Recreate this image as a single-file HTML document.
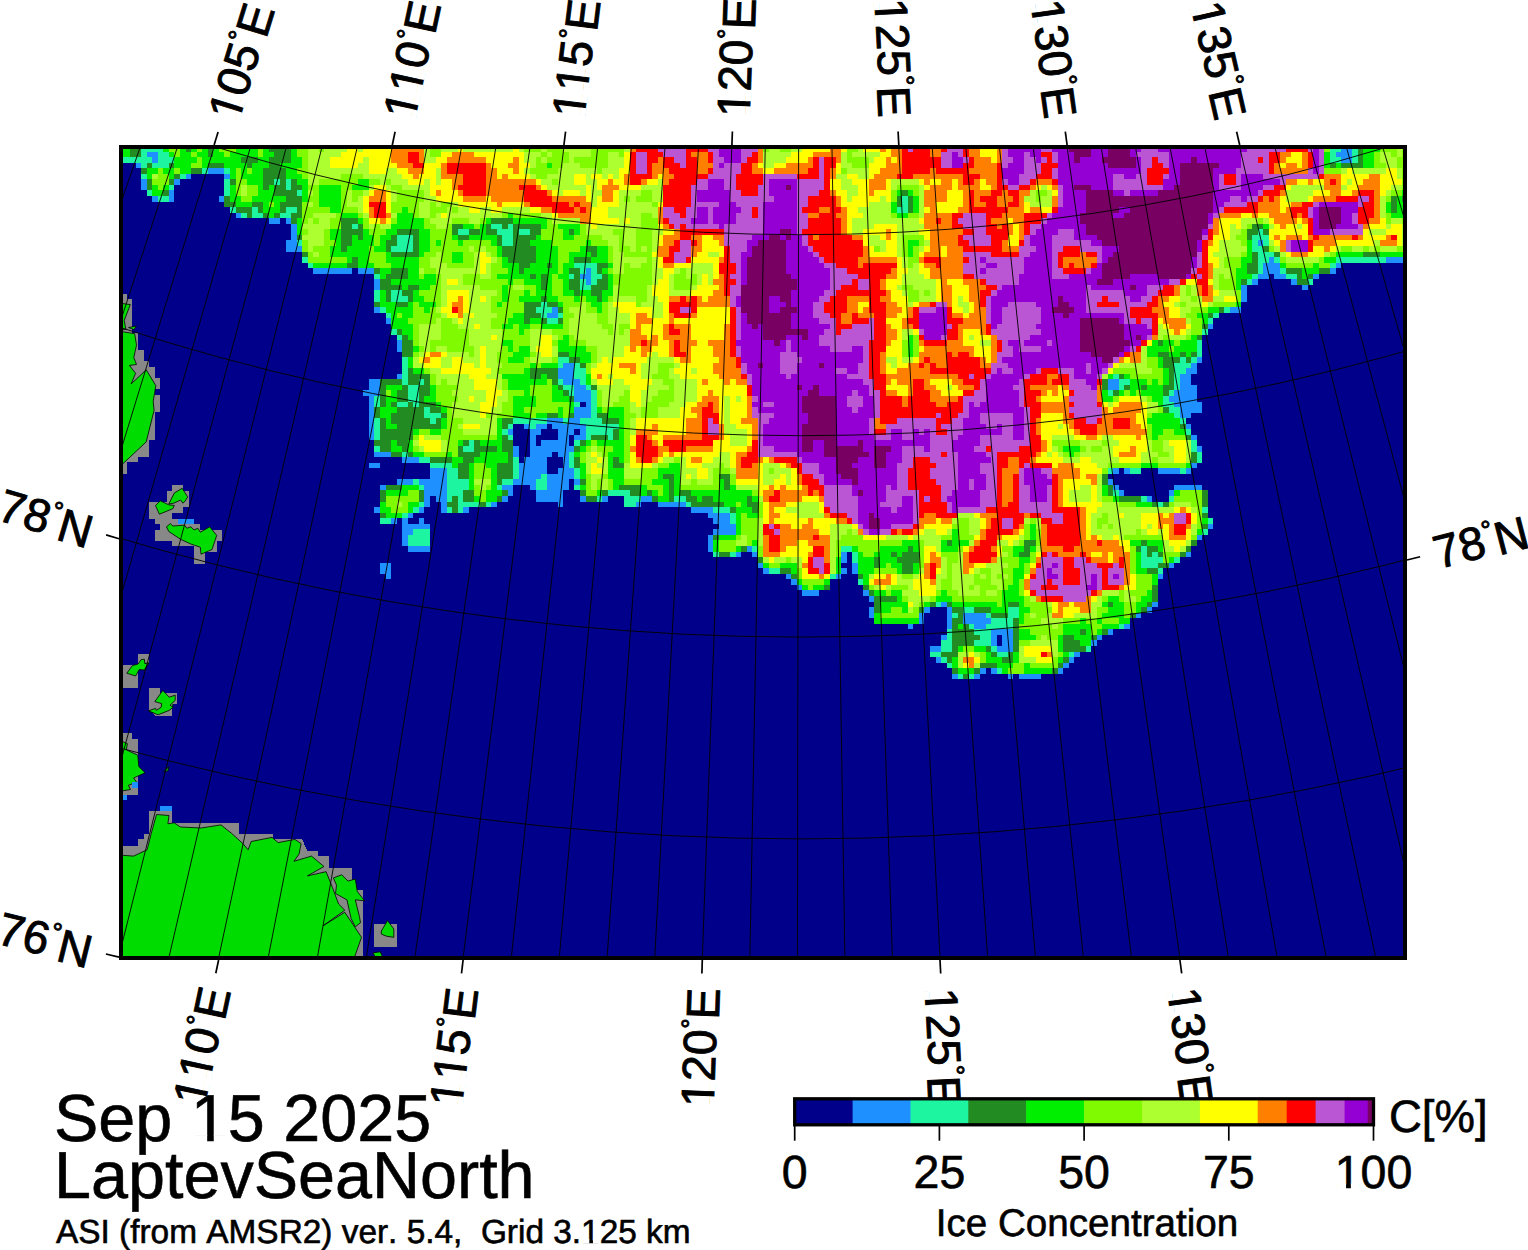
<!DOCTYPE html><html><head><meta charset="utf-8"><style>html,body{margin:0;padding:0;background:#fff}svg text{white-space:pre;font-kerning:none;text-rendering:geometricPrecision}</style></head><body><svg width="1528" height="1250" viewBox="0 0 1528 1250" style="display:block">
<rect width="1528" height="1250" fill="#fff"/>
<defs><clipPath id="mc"><rect x="121" y="147" width="1284" height="811"/></clipPath></defs>
<g clip-path="url(#mc)" shape-rendering="crispEdges">
<rect x="121" y="147" width="1284" height="811" fill="#00008b"/>
<g transform="translate(118.90,146.00) scale(5.5556)">
<path fill="#1e90ff" d="M220 0h2v1h-2zM232 0h1v1h-1zM5 1h2v1h-2zM219 1h3v1h-3zM6 2h1v1h-1zM220 2h2v1h-2zM3 3h1v1h-1zM16 4h3v1h-3zM232 4h1v1h-1zM12 5h1v1h-1zM19 5h1v1h-1zM232 5h1v1h-1zM4 6h1v1h-1zM10 6h1v1h-1zM232 6h1v1h-1zM4 7h1v1h-1zM232 7h1v1h-1zM9 8h1v1h-1zM232 8h1v1h-1zM6 9h1v1h-1zM9 9h1v1h-1zM18 9h1v1h-1zM232 9h1v1h-1zM232 10h1v1h-1zM232 11h1v1h-1zM21 12h1v1h-1zM232 12h1v1h-1zM27 13h2v1h-2zM30 13h1v1h-1zM31 14h1v1h-1zM31 15h1v1h-1zM31 16h1v1h-1zM30 17h2v1h-2zM205 17h1v1h-1zM30 18h3v1h-3zM207 20h1v1h-1zM228 20h4v1h-4zM206 21h3v1h-3zM219 21h1v1h-1zM35 22h7v1h-7zM43 22h3v1h-3zM84 22h1v1h-1zM206 22h3v1h-3zM218 22h1v1h-1zM83 23h2v1h-2zM205 23h2v1h-2zM208 23h2v1h-2zM215 23h1v1h-1zM46 24h1v1h-1zM84 24h1v1h-1zM204 24h1v1h-1zM211 24h1v1h-1zM46 25h1v1h-1zM202 25h1v1h-1zM213 25h1v1h-1zM202 26h1v1h-1zM202 27h1v1h-1zM46 29h1v1h-1zM78 29h1v1h-1zM200 29h2v1h-2zM77 30h2v1h-2zM48 31h1v1h-1zM196 32h1v1h-1zM50 35h1v1h-1zM50 36h1v1h-1zM194 38h1v1h-1zM80 39h2v1h-2zM193 39h1v1h-1zM79 40h3v1h-3zM192 40h2v1h-2zM50 41h1v1h-1zM79 41h3v1h-3zM191 41h2v1h-2zM45 42h2v1h-2zM80 42h3v1h-3zM178 42h2v1h-2zM191 42h2v1h-2zM45 43h2v1h-2zM82 43h2v1h-2zM178 43h2v1h-2zM191 43h3v1h-3zM44 44h3v1h-3zM82 44h3v1h-3zM190 44h4v1h-4zM45 45h1v1h-1zM82 45h3v1h-3zM189 45h5v1h-5zM45 46h1v1h-1zM84 46h1v1h-1zM190 46h5v1h-5zM45 47h1v1h-1zM82 47h3v1h-3zM191 47h4v1h-4zM45 48h1v1h-1zM82 48h3v1h-3zM191 48h2v1h-2zM45 49h1v1h-1zM77 49h3v1h-3zM81 49h2v1h-2zM45 50h1v1h-1zM73 50h1v1h-1zM75 50h2v1h-2zM78 50h6v1h-6zM192 50h1v1h-1zM45 51h1v1h-1zM70 51h1v1h-1zM74 51h2v1h-2zM79 51h3v1h-3zM83 51h1v1h-1zM45 52h1v1h-1zM74 52h1v1h-1zM79 52h2v1h-2zM82 52h2v1h-2zM193 52h1v1h-1zM74 53h1v1h-1zM76 53h5v1h-5zM71 54h1v1h-1zM74 54h8v1h-8zM194 54h1v1h-1zM46 55h3v1h-3zM71 55h1v1h-1zM74 55h4v1h-4zM79 55h2v1h-2zM51 56h3v1h-3zM73 56h4v1h-4zM80 56h1v1h-1zM45 57h2v1h-2zM72 57h5v1h-5zM80 57h1v1h-1zM193 57h1v1h-1zM56 58h3v1h-3zM72 58h5v1h-5zM79 58h3v1h-3zM179 58h1v1h-1zM181 58h1v1h-1zM187 58h4v1h-4zM192 58h1v1h-1zM56 59h3v1h-3zM72 59h4v1h-4zM77 59h5v1h-5zM50 60h3v1h-3zM54 60h5v1h-5zM71 60h4v1h-4zM77 60h4v1h-4zM82 60h1v1h-1zM178 60h1v1h-1zM47 61h1v1h-1zM55 61h4v1h-4zM69 61h2v1h-2zM74 61h1v1h-1zM77 61h4v1h-4zM179 61h1v1h-1zM190 61h5v1h-5zM55 62h4v1h-4zM70 62h1v1h-1zM75 62h5v1h-5zM180 62h1v1h-1zM189 62h1v1h-1zM55 63h1v1h-1zM57 63h2v1h-2zM69 63h1v1h-1zM75 63h5v1h-5zM83 63h1v1h-1zM87 63h1v1h-1zM94 63h2v1h-2zM185 63h1v1h-1zM55 64h1v1h-1zM58 64h1v1h-1zM67 64h1v1h-1zM79 64h1v1h-1zM93 64h1v1h-1zM97 64h5v1h-5zM46 65h1v1h-1zM54 65h1v1h-1zM58 65h1v1h-1zM62 65h1v1h-1zM103 65h4v1h-4zM52 66h1v1h-1zM106 66h4v1h-4zM49 67h1v1h-1zM51 67h1v1h-1zM54 67h1v1h-1zM107 67h3v1h-3zM51 68h5v1h-5zM108 68h3v1h-3zM196 68h1v1h-1zM51 69h2v1h-2zM107 69h4v1h-4zM51 70h1v1h-1zM106 70h1v1h-1zM194 70h1v1h-1zM51 71h1v1h-1zM106 71h1v1h-1zM52 72h4v1h-4zM106 72h1v1h-1zM113 72h1v1h-1zM111 73h1v1h-1zM114 73h1v1h-1zM130 73h1v1h-1zM192 73h1v1h-1zM130 74h1v1h-1zM47 75h2v1h-2zM115 75h1v1h-1zM132 75h1v1h-1zM189 75h1v1h-1zM47 76h2v1h-2zM116 76h1v1h-1zM130 76h1v1h-1zM132 76h1v1h-1zM48 77h1v1h-1zM120 77h1v1h-1zM129 77h1v1h-1zM187 77h1v1h-1zM121 78h1v1h-1zM122 79h1v1h-1zM123 80h3v1h-3zM134 80h1v1h-1zM135 81h1v1h-1zM148 82h1v1h-1zM186 82h1v1h-1zM135 83h1v1h-1zM145 83h1v1h-1zM149 83h1v1h-1zM185 83h1v1h-1zM135 84h1v1h-1zM144 84h1v1h-1zM149 84h1v1h-1zM152 84h4v1h-4zM183 84h1v1h-1zM144 85h1v1h-1zM149 85h1v1h-1zM152 85h5v1h-5zM142 86h1v1h-1zM149 86h1v1h-1zM154 86h2v1h-2zM181 86h1v1h-1zM157 87h4v1h-4zM178 87h1v1h-1zM148 88h1v1h-1zM157 88h1v1h-1zM159 88h2v1h-2zM176 88h1v1h-1zM157 89h1v1h-1zM159 89h2v1h-2zM175 89h1v1h-1zM146 90h2v1h-2zM158 90h3v1h-3zM172 91h1v1h-1zM147 92h1v1h-1zM171 92h1v1h-1zM170 93h1v1h-1zM155 94h1v1h-1zM157 94h1v1h-1zM169 94h1v1h-1zM150 95h1v1h-1zM154 95h1v1h-1zM160 95h1v1h-1zM162 95h4v1h-4z"/>
<path fill="#1ef5a0" d="M4 0h4v1h-4zM218 0h2v1h-2zM222 0h1v1h-1zM4 1h1v1h-1zM7 1h2v1h-2zM218 1h1v1h-1zM222 1h1v1h-1zM232 1h1v1h-1zM0 2h6v1h-6zM7 2h3v1h-3zM218 2h2v1h-2zM222 2h1v1h-1zM232 2h1v1h-1zM4 3h1v1h-1zM6 3h3v1h-3zM232 3h1v1h-1zM15 4h1v1h-1zM19 4h1v1h-1zM4 5h1v1h-1zM11 5h1v1h-1zM19 6h1v1h-1zM28 6h1v1h-1zM30 6h1v1h-1zM9 7h1v1h-1zM19 7h1v1h-1zM30 7h1v1h-1zM5 8h1v1h-1zM19 8h1v1h-1zM32 8h1v1h-1zM7 9h2v1h-2zM141 9h1v1h-1zM141 10h1v1h-1zM20 11h1v1h-1zM24 11h1v1h-1zM30 11h2v1h-2zM140 11h2v1h-2zM22 12h1v1h-1zM24 12h2v1h-2zM29 12h2v1h-2zM232 13h1v1h-1zM42 14h1v1h-1zM67 14h2v1h-2zM70 14h1v1h-1zM232 14h1v1h-1zM61 15h2v1h-2zM68 15h3v1h-3zM72 15h2v1h-2zM205 15h1v1h-1zM50 16h3v1h-3zM69 16h2v1h-2zM204 16h3v1h-3zM32 17h1v1h-1zM50 17h3v1h-3zM69 17h2v1h-2zM204 17h1v1h-1zM206 17h1v1h-1zM49 18h4v1h-4zM204 18h2v1h-2zM232 18h1v1h-1zM205 19h3v1h-3zM232 19h1v1h-1zM33 20h1v1h-1zM205 20h2v1h-2zM208 20h1v1h-1zM219 20h9v1h-9zM34 21h1v1h-1zM82 21h4v1h-4zM205 21h1v1h-1zM218 21h1v1h-1zM83 22h1v1h-1zM85 22h1v1h-1zM205 22h1v1h-1zM209 22h1v1h-1zM46 23h1v1h-1zM81 23h1v1h-1zM85 23h2v1h-2zM204 23h1v1h-1zM210 23h2v1h-2zM83 24h1v1h-1zM85 24h1v1h-1zM203 24h1v1h-1zM214 24h1v1h-1zM83 25h2v1h-2zM46 26h1v1h-1zM49 26h2v1h-2zM46 27h1v1h-1zM49 27h3v1h-3zM76 28h1v1h-1zM47 29h1v1h-1zM75 29h3v1h-3zM199 29h1v1h-1zM48 30h1v1h-1zM76 30h1v1h-1zM79 30h1v1h-1zM197 30h1v1h-1zM77 31h2v1h-2zM196 31h1v1h-1zM49 33h1v1h-1zM195 33h1v1h-1zM50 34h1v1h-1zM194 35h1v1h-1zM194 36h1v1h-1zM194 37h1v1h-1zM51 38h1v1h-1zM79 38h2v1h-2zM191 38h1v1h-1zM193 38h1v1h-1zM51 39h1v1h-1zM79 39h1v1h-1zM82 39h1v1h-1zM190 39h3v1h-3zM51 40h1v1h-1zM82 40h2v1h-2zM190 40h2v1h-2zM51 41h1v1h-1zM82 41h2v1h-2zM179 41h1v1h-1zM190 41h1v1h-1zM51 42h1v1h-1zM54 42h1v1h-1zM79 42h1v1h-1zM83 42h1v1h-1zM180 42h2v1h-2zM190 42h1v1h-1zM52 43h2v1h-2zM80 43h2v1h-2zM84 43h1v1h-1zM180 43h1v1h-1zM190 43h1v1h-1zM52 44h2v1h-2zM81 44h1v1h-1zM85 44h1v1h-1zM178 44h1v1h-1zM189 44h1v1h-1zM46 45h1v1h-1zM52 45h2v1h-2zM85 45h1v1h-1zM188 45h1v1h-1zM46 46h1v1h-1zM50 46h2v1h-2zM53 46h1v1h-1zM82 46h1v1h-1zM85 46h1v1h-1zM188 46h2v1h-2zM55 47h1v1h-1zM85 47h1v1h-1zM189 47h2v1h-2zM55 48h3v1h-3zM85 48h1v1h-1zM190 48h1v1h-1zM46 49h1v1h-1zM56 49h1v1h-1zM71 49h6v1h-6zM80 49h1v1h-1zM83 49h4v1h-4zM191 49h1v1h-1zM46 50h1v1h-1zM70 50h1v1h-1zM74 50h1v1h-1zM84 50h6v1h-6zM46 51h1v1h-1zM69 51h1v1h-1zM84 51h5v1h-5zM192 51h1v1h-1zM46 52h1v1h-1zM70 52h1v1h-1zM84 52h1v1h-1zM88 52h1v1h-1zM63 53h1v1h-1zM82 53h1v1h-1zM193 53h1v1h-1zM46 54h1v1h-1zM62 54h2v1h-2zM193 54h1v1h-1zM51 55h1v1h-1zM81 55h1v1h-1zM194 55h1v1h-1zM54 56h2v1h-2zM71 56h1v1h-1zM81 56h1v1h-1zM194 56h1v1h-1zM56 57h4v1h-4zM71 57h1v1h-1zM81 57h1v1h-1zM59 58h2v1h-2zM71 58h1v1h-1zM82 58h1v1h-1zM178 58h1v1h-1zM182 58h2v1h-2zM191 58h1v1h-1zM59 59h2v1h-2zM71 59h1v1h-1zM76 59h1v1h-1zM82 59h1v1h-1zM53 60h1v1h-1zM59 60h4v1h-4zM69 60h2v1h-2zM75 60h2v1h-2zM54 61h1v1h-1zM59 61h4v1h-4zM68 61h1v1h-1zM75 61h2v1h-2zM82 61h1v1h-1zM59 62h3v1h-3zM88 62h4v1h-4zM179 62h1v1h-1zM59 63h1v1h-1zM61 63h1v1h-1zM86 63h1v1h-1zM91 63h3v1h-3zM100 63h2v1h-2zM184 63h1v1h-1zM189 63h1v1h-1zM54 64h1v1h-1zM61 64h4v1h-4zM66 64h1v1h-1zM91 64h2v1h-2zM102 64h1v1h-1zM187 64h1v1h-1zM53 65h1v1h-1zM59 65h1v1h-1zM61 65h1v1h-1zM107 65h3v1h-3zM195 65h1v1h-1zM51 66h1v1h-1zM110 66h1v1h-1zM47 67h2v1h-2zM110 67h1v1h-1zM196 67h1v1h-1zM53 69h3v1h-3zM195 69h1v1h-1zM52 70h4v1h-4zM52 71h4v1h-4zM114 72h1v1h-1zM130 72h2v1h-2zM184 72h1v1h-1zM107 73h1v1h-1zM110 73h1v1h-1zM132 73h1v1h-1zM184 73h1v1h-1zM186 73h1v1h-1zM132 74h1v1h-1zM184 74h4v1h-4zM190 74h1v1h-1zM184 75h3v1h-3zM117 76h2v1h-2zM187 76h1v1h-1zM128 77h1v1h-1zM133 78h1v1h-1zM147 82h1v1h-1zM152 83h2v1h-2zM160 83h2v1h-2zM150 84h1v1h-1zM156 84h1v1h-1zM160 84h2v1h-2zM157 85h4v1h-4zM153 86h1v1h-1zM156 86h5v1h-5zM180 86h1v1h-1zM149 87h1v1h-1zM154 87h3v1h-3zM149 88h1v1h-1zM155 88h2v1h-2zM148 89h2v1h-2zM154 89h3v1h-3zM148 90h2v1h-2zM157 90h1v1h-1zM174 90h1v1h-1zM146 91h2v1h-2zM158 91h2v1h-2zM171 91h1v1h-1zM148 92h1v1h-1zM149 93h1v1h-1zM158 94h1v1h-1zM151 95h1v1h-1zM153 95h1v1h-1z"/>
<path fill="#228b22" d="M2 0h2v1h-2zM12 0h1v1h-1zM16 0h1v1h-1zM27 0h4v1h-4zM223 0h1v1h-1zM2 1h2v1h-2zM16 1h1v1h-1zM28 1h3v1h-3zM223 1h1v1h-1zM22 2h3v1h-3zM27 2h4v1h-4zM223 2h1v1h-1zM5 3h1v1h-1zM9 3h1v1h-1zM16 3h3v1h-3zM23 3h1v1h-1zM27 3h2v1h-2zM218 3h1v1h-1zM220 3h4v1h-4zM4 4h1v1h-1zM13 4h2v1h-2zM26 4h4v1h-4zM10 5h1v1h-1zM26 5h4v1h-4zM5 6h1v1h-1zM9 6h1v1h-1zM20 6h1v1h-1zM26 6h2v1h-2zM29 6h1v1h-1zM31 6h1v1h-1zM5 7h1v1h-1zM26 7h1v1h-1zM28 7h2v1h-2zM31 7h2v1h-2zM8 8h1v1h-1zM28 8h4v1h-4zM141 8h1v1h-1zM19 9h1v1h-1zM30 9h3v1h-3zM140 9h1v1h-1zM142 9h1v1h-1zM229 9h1v1h-1zM231 9h1v1h-1zM19 10h2v1h-2zM24 10h2v1h-2zM29 10h4v1h-4zM140 10h1v1h-1zM142 10h1v1h-1zM229 10h1v1h-1zM21 11h3v1h-3zM25 11h1v1h-1zM29 11h1v1h-1zM32 11h1v1h-1zM142 11h1v1h-1zM229 11h1v1h-1zM23 12h1v1h-1zM26 12h1v1h-1zM28 12h1v1h-1zM31 12h2v1h-2zM31 13h1v1h-1zM40 13h3v1h-3zM67 13h4v1h-4zM40 14h2v1h-2zM43 14h1v1h-1zM60 14h2v1h-2zM66 14h1v1h-1zM69 14h1v1h-1zM71 14h5v1h-5zM204 14h2v1h-2zM40 15h4v1h-4zM50 15h4v1h-4zM60 15h1v1h-1zM63 15h2v1h-2zM66 15h2v1h-2zM71 15h1v1h-1zM74 15h2v1h-2zM81 15h1v1h-1zM203 15h2v1h-2zM206 15h1v1h-1zM232 15h1v1h-1zM32 16h1v1h-1zM40 16h2v1h-2zM43 16h1v1h-1zM49 16h1v1h-1zM53 16h1v1h-1zM61 16h2v1h-2zM68 16h1v1h-1zM71 16h4v1h-4zM203 16h1v1h-1zM232 16h1v1h-1zM40 17h2v1h-2zM48 17h2v1h-2zM53 17h1v1h-1zM68 17h1v1h-1zM71 17h3v1h-3zM232 17h1v1h-1zM40 18h1v1h-1zM48 18h1v1h-1zM53 18h1v1h-1zM69 18h6v1h-6zM84 18h2v1h-2zM206 18h1v1h-1zM33 19h1v1h-1zM49 19h5v1h-5zM69 19h6v1h-6zM85 19h1v1h-1zM204 19h1v1h-1zM208 19h1v1h-1zM224 19h3v1h-3zM42 20h1v1h-1zM70 20h5v1h-5zM82 20h3v1h-3zM204 20h1v1h-1zM41 21h2v1h-2zM72 21h2v1h-2zM77 21h1v1h-1zM86 21h2v1h-2zM203 21h2v1h-2zM46 22h1v1h-1zM49 22h3v1h-3zM72 22h1v1h-1zM81 22h2v1h-2zM86 22h1v1h-1zM203 22h2v1h-2zM210 22h3v1h-3zM216 22h2v1h-2zM48 23h4v1h-4zM74 23h1v1h-1zM76 23h1v1h-1zM82 23h1v1h-1zM87 23h1v1h-1zM212 23h1v1h-1zM214 23h1v1h-1zM47 24h2v1h-2zM76 24h1v1h-1zM81 24h2v1h-2zM86 24h2v1h-2zM202 24h1v1h-1zM212 24h2v1h-2zM47 25h4v1h-4zM52 25h2v1h-2zM76 25h1v1h-1zM81 25h2v1h-2zM85 25h3v1h-3zM48 26h1v1h-1zM51 26h2v1h-2zM82 26h1v1h-1zM85 26h2v1h-2zM48 27h1v1h-1zM52 27h1v1h-1zM76 27h1v1h-1zM86 27h1v1h-1zM46 28h1v1h-1zM50 28h2v1h-2zM73 28h3v1h-3zM77 28h2v1h-2zM73 29h2v1h-2zM79 29h1v1h-1zM198 29h1v1h-1zM73 30h3v1h-3zM196 30h1v1h-1zM73 31h1v1h-1zM76 31h1v1h-1zM79 31h1v1h-1zM195 32h1v1h-1zM50 33h1v1h-1zM51 34h1v1h-1zM194 34h1v1h-1zM51 35h2v1h-2zM187 35h1v1h-1zM51 36h2v1h-2zM51 37h2v1h-2zM79 37h2v1h-2zM187 37h2v1h-2zM191 37h1v1h-1zM193 37h1v1h-1zM81 38h2v1h-2zM188 38h3v1h-3zM192 38h1v1h-1zM83 39h1v1h-1zM188 39h2v1h-2zM52 40h1v1h-1zM74 40h5v1h-5zM189 40h1v1h-1zM52 41h4v1h-4zM74 41h2v1h-2zM77 41h2v1h-2zM180 41h1v1h-1zM189 41h1v1h-1zM47 42h4v1h-4zM52 42h2v1h-2zM55 42h1v1h-1zM78 42h1v1h-1zM177 42h1v1h-1zM189 42h1v1h-1zM47 43h1v1h-1zM51 43h1v1h-1zM54 43h2v1h-2zM79 43h1v1h-1zM85 43h1v1h-1zM177 43h1v1h-1zM181 43h1v1h-1zM184 43h1v1h-1zM188 43h2v1h-2zM47 44h1v1h-1zM50 44h2v1h-2zM54 44h2v1h-2zM80 44h1v1h-1zM179 44h1v1h-1zM188 44h1v1h-1zM47 45h1v1h-1zM50 45h2v1h-2zM54 45h1v1h-1zM81 45h1v1h-1zM47 46h1v1h-1zM49 46h1v1h-1zM52 46h1v1h-1zM54 46h3v1h-3zM46 47h1v1h-1zM50 47h5v1h-5zM56 47h2v1h-2zM188 47h1v1h-1zM46 48h1v1h-1zM49 48h6v1h-6zM58 48h1v1h-1zM77 48h2v1h-2zM81 48h1v1h-1zM86 48h2v1h-2zM47 49h1v1h-1zM49 49h7v1h-7zM57 49h1v1h-1zM69 49h2v1h-2zM87 49h3v1h-3zM47 50h1v1h-1zM50 50h8v1h-8zM69 50h1v1h-1zM191 50h1v1h-1zM47 51h6v1h-6zM89 51h1v1h-1zM47 52h6v1h-6zM69 52h1v1h-1zM85 52h3v1h-3zM89 52h1v1h-1zM192 52h1v1h-1zM46 53h3v1h-3zM50 53h2v1h-2zM62 53h1v1h-1zM64 53h1v1h-1zM69 53h2v1h-2zM83 53h1v1h-1zM47 54h2v1h-2zM51 54h1v1h-1zM61 54h1v1h-1zM64 54h4v1h-4zM69 54h2v1h-2zM82 54h1v1h-1zM49 55h2v1h-2zM52 55h1v1h-1zM61 55h4v1h-4zM70 55h1v1h-1zM193 55h1v1h-1zM56 56h4v1h-4zM62 56h2v1h-2zM70 56h1v1h-1zM82 56h1v1h-1zM89 56h1v1h-1zM193 56h1v1h-1zM61 57h2v1h-2zM68 57h3v1h-3zM82 57h1v1h-1zM89 57h2v1h-2zM61 58h2v1h-2zM68 58h3v1h-3zM61 59h2v1h-2zM68 59h3v1h-3zM98 59h2v1h-2zM108 59h2v1h-2zM177 59h1v1h-1zM68 60h1v1h-1zM83 60h1v1h-1zM99 60h1v1h-1zM109 60h1v1h-1zM177 60h1v1h-1zM48 61h3v1h-3zM90 61h4v1h-4zM99 61h1v1h-1zM109 61h1v1h-1zM178 61h1v1h-1zM47 62h1v1h-1zM54 62h1v1h-1zM62 62h2v1h-2zM69 62h1v1h-1zM83 62h1v1h-1zM87 62h1v1h-1zM92 62h2v1h-2zM95 62h1v1h-1zM99 62h1v1h-1zM101 62h2v1h-2zM178 62h1v1h-1zM195 62h1v1h-1zM47 63h1v1h-1zM54 63h1v1h-1zM60 63h1v1h-1zM62 63h2v1h-2zM68 63h1v1h-1zM84 63h2v1h-2zM96 63h1v1h-1zM99 63h1v1h-1zM102 63h2v1h-2zM105 63h2v1h-2zM113 63h1v1h-1zM180 63h4v1h-4zM195 63h1v1h-1zM59 64h2v1h-2zM65 64h1v1h-1zM103 64h6v1h-6zM113 64h2v1h-2zM186 64h1v1h-1zM188 64h1v1h-1zM195 64h1v1h-1zM60 65h1v1h-1zM110 65h1v1h-1zM114 65h1v1h-1zM47 66h1v1h-1zM195 66h1v1h-1zM195 68h1v1h-1zM107 70h1v1h-1zM149 71h1v1h-1zM163 71h2v1h-2zM184 71h1v1h-1zM193 71h1v1h-1zM112 72h1v1h-1zM142 72h1v1h-1zM163 72h1v1h-1zM183 72h1v1h-1zM185 72h2v1h-2zM192 72h1v1h-1zM108 73h2v1h-2zM139 73h1v1h-1zM141 73h3v1h-3zM162 73h2v1h-2zM185 73h1v1h-1zM187 73h1v1h-1zM191 73h1v1h-1zM115 74h1v1h-1zM136 74h1v1h-1zM140 74h4v1h-4zM136 75h1v1h-1zM141 75h2v1h-2zM187 75h2v1h-2zM119 76h2v1h-2zM141 76h2v1h-2zM185 76h2v1h-2zM121 77h1v1h-1zM133 77h1v1h-1zM127 79h1v1h-1zM134 79h1v1h-1zM186 79h1v1h-1zM135 80h1v1h-1zM186 80h1v1h-1zM136 81h4v1h-4zM186 81h1v1h-1zM136 82h1v1h-1zM146 82h1v1h-1zM149 82h1v1h-1zM160 82h2v1h-2zM178 82h1v1h-1zM185 82h1v1h-1zM136 83h1v1h-1zM144 83h1v1h-1zM150 83h2v1h-2zM154 83h3v1h-3zM184 83h1v1h-1zM151 84h1v1h-1zM157 84h3v1h-3zM182 84h1v1h-1zM150 85h2v1h-2zM161 85h1v1h-1zM150 86h1v1h-1zM152 86h1v1h-1zM161 86h1v1h-1zM150 87h4v1h-4zM161 87h1v1h-1zM173 87h1v1h-1zM177 87h1v1h-1zM150 88h5v1h-5zM161 88h1v1h-1zM170 88h2v1h-2zM175 88h1v1h-1zM150 89h4v1h-4zM161 89h1v1h-1zM170 89h3v1h-3zM150 90h1v1h-1zM156 90h1v1h-1zM161 90h1v1h-1zM170 90h4v1h-4zM148 91h3v1h-3zM157 91h1v1h-1zM160 91h1v1h-1zM149 92h1v1h-1zM159 92h2v1h-2zM170 92h1v1h-1zM155 93h3v1h-3zM169 93h1v1h-1zM150 94h1v1h-1zM154 94h1v1h-1zM168 94h1v1h-1zM152 95h1v1h-1z"/>
<path fill="#00ee00" d="M0 0h2v1h-2zM8 0h1v1h-1zM11 0h1v1h-1zM13 0h1v1h-1zM15 0h1v1h-1zM17 0h1v1h-1zM21 0h4v1h-4zM26 0h1v1h-1zM31 0h1v1h-1zM224 0h3v1h-3zM0 1h2v1h-2zM9 1h1v1h-1zM11 1h2v1h-2zM14 1h2v1h-2zM17 1h2v1h-2zM20 1h5v1h-5zM26 1h2v1h-2zM31 1h1v1h-1zM217 1h1v1h-1zM224 1h2v1h-2zM10 2h4v1h-4zM15 2h7v1h-7zM25 2h2v1h-2zM31 2h2v1h-2zM217 2h1v1h-1zM224 2h2v1h-2zM10 3h3v1h-3zM15 3h1v1h-1zM19 3h4v1h-4zM24 3h3v1h-3zM29 3h4v1h-4zM77 3h1v1h-1zM217 3h1v1h-1zM219 3h1v1h-1zM224 3h2v1h-2zM5 4h2v1h-2zM8 4h2v1h-2zM11 4h2v1h-2zM20 4h1v1h-1zM22 4h1v1h-1zM24 4h2v1h-2zM30 4h2v1h-2zM5 5h1v1h-1zM9 5h1v1h-1zM20 5h1v1h-1zM22 5h4v1h-4zM30 5h3v1h-3zM23 6h3v1h-3zM32 6h2v1h-2zM43 6h2v1h-2zM6 7h1v1h-1zM8 7h1v1h-1zM20 7h1v1h-1zM25 7h1v1h-1zM27 7h1v1h-1zM33 7h1v1h-1zM36 7h4v1h-4zM42 7h3v1h-3zM6 8h2v1h-2zM20 8h1v1h-1zM25 8h3v1h-3zM33 8h1v1h-1zM36 8h4v1h-4zM140 8h1v1h-1zM142 8h1v1h-1zM231 8h1v1h-1zM20 9h2v1h-2zM24 9h6v1h-6zM33 9h1v1h-1zM36 9h4v1h-4zM143 9h1v1h-1zM230 9h1v1h-1zM21 10h3v1h-3zM26 10h1v1h-1zM28 10h1v1h-1zM36 10h4v1h-4zM139 10h1v1h-1zM143 10h1v1h-1zM228 10h1v1h-1zM230 10h2v1h-2zM26 11h3v1h-3zM38 11h2v1h-2zM51 11h1v1h-1zM139 11h1v1h-1zM143 11h1v1h-1zM228 11h1v1h-1zM230 11h2v1h-2zM27 12h1v1h-1zM40 12h3v1h-3zM50 12h3v1h-3zM70 12h1v1h-1zM140 12h2v1h-2zM229 12h3v1h-3zM32 13h1v1h-1zM43 13h1v1h-1zM50 13h5v1h-5zM66 13h1v1h-1zM71 13h6v1h-6zM32 14h1v1h-1zM49 14h6v1h-6zM62 14h2v1h-2zM65 14h1v1h-1zM76 14h1v1h-1zM79 14h4v1h-4zM206 14h1v1h-1zM32 15h1v1h-1zM38 15h2v1h-2zM44 15h1v1h-1zM48 15h2v1h-2zM54 15h2v1h-2zM65 15h1v1h-1zM80 15h1v1h-1zM82 15h1v1h-1zM38 16h2v1h-2zM42 16h1v1h-1zM44 16h2v1h-2zM47 16h2v1h-2zM54 16h2v1h-2zM60 16h1v1h-1zM63 16h5v1h-5zM75 16h1v1h-1zM80 16h2v1h-2zM39 17h1v1h-1zM42 17h4v1h-4zM47 17h1v1h-1zM54 17h2v1h-2zM57 17h1v1h-1zM61 17h1v1h-1zM67 17h1v1h-1zM74 17h4v1h-4zM84 17h1v1h-1zM142 17h2v1h-2zM203 17h1v1h-1zM38 18h2v1h-2zM41 18h4v1h-4zM46 18h2v1h-2zM54 18h2v1h-2zM68 18h1v1h-1zM75 18h4v1h-4zM83 18h1v1h-1zM86 18h2v1h-2zM142 18h1v1h-1zM203 18h1v1h-1zM38 19h7v1h-7zM48 19h1v1h-1zM54 19h1v1h-1zM60 19h2v1h-2zM68 19h1v1h-1zM75 19h4v1h-4zM81 19h4v1h-4zM86 19h2v1h-2zM142 19h1v1h-1zM203 19h1v1h-1zM219 19h5v1h-5zM227 19h5v1h-5zM41 20h1v1h-1zM43 20h2v1h-2zM48 20h6v1h-6zM60 20h2v1h-2zM69 20h1v1h-1zM75 20h4v1h-4zM81 20h1v1h-1zM85 20h3v1h-3zM202 20h2v1h-2zM217 20h2v1h-2zM35 21h6v1h-6zM43 21h3v1h-3zM49 21h5v1h-5zM69 21h3v1h-3zM74 21h3v1h-3zM78 21h1v1h-1zM80 21h2v1h-2zM88 21h1v1h-1zM202 21h1v1h-1zM209 21h1v1h-1zM215 21h1v1h-1zM47 22h2v1h-2zM52 22h2v1h-2zM70 22h2v1h-2zM73 22h6v1h-6zM80 22h1v1h-1zM87 22h1v1h-1zM201 22h2v1h-2zM213 22h3v1h-3zM47 23h1v1h-1zM52 23h2v1h-2zM55 23h2v1h-2zM68 23h6v1h-6zM75 23h1v1h-1zM77 23h1v1h-1zM79 23h2v1h-2zM88 23h1v1h-1zM201 23h3v1h-3zM213 23h1v1h-1zM49 24h8v1h-8zM70 24h1v1h-1zM73 24h3v1h-3zM77 24h1v1h-1zM80 24h1v1h-1zM88 24h1v1h-1zM201 24h1v1h-1zM51 25h1v1h-1zM54 25h2v1h-2zM69 25h1v1h-1zM75 25h1v1h-1zM77 25h1v1h-1zM80 25h1v1h-1zM88 25h1v1h-1zM201 25h1v1h-1zM47 26h1v1h-1zM53 26h1v1h-1zM69 26h1v1h-1zM73 26h1v1h-1zM75 26h3v1h-3zM80 26h2v1h-2zM83 26h2v1h-2zM87 26h2v1h-2zM47 27h1v1h-1zM53 27h2v1h-2zM69 27h1v1h-1zM72 27h4v1h-4zM77 27h2v1h-2zM82 27h1v1h-1zM84 27h2v1h-2zM87 27h1v1h-1zM47 28h3v1h-3zM52 28h1v1h-1zM54 28h3v1h-3zM68 28h1v1h-1zM79 28h1v1h-1zM85 28h2v1h-2zM201 28h1v1h-1zM48 29h5v1h-5zM55 29h1v1h-1zM86 29h1v1h-1zM196 29h2v1h-2zM49 30h1v1h-1zM51 30h2v1h-2zM71 30h2v1h-2zM194 30h2v1h-2zM49 31h3v1h-3zM70 31h3v1h-3zM74 31h2v1h-2zM195 31h1v1h-1zM49 32h4v1h-4zM69 32h2v1h-2zM72 32h2v1h-2zM76 32h4v1h-4zM51 33h2v1h-2zM72 33h1v1h-1zM52 34h1v1h-1zM80 34h1v1h-1zM142 34h1v1h-1zM193 34h1v1h-1zM69 35h2v1h-2zM79 35h2v1h-2zM142 35h1v1h-1zM186 35h1v1h-1zM188 35h2v1h-2zM191 35h3v1h-3zM53 36h1v1h-1zM70 36h1v1h-1zM72 36h2v1h-2zM79 36h5v1h-5zM142 36h1v1h-1zM185 36h4v1h-4zM190 36h4v1h-4zM71 37h3v1h-3zM81 37h4v1h-4zM142 37h1v1h-1zM185 37h2v1h-2zM189 37h2v1h-2zM192 37h1v1h-1zM52 38h1v1h-1zM70 38h3v1h-3zM83 38h2v1h-2zM187 38h1v1h-1zM52 39h1v1h-1zM74 39h1v1h-1zM76 39h3v1h-3zM187 39h1v1h-1zM53 40h2v1h-2zM73 40h1v1h-1zM188 40h1v1h-1zM69 41h5v1h-5zM76 41h1v1h-1zM84 41h1v1h-1zM178 41h1v1h-1zM181 41h1v1h-1zM188 41h1v1h-1zM70 42h7v1h-7zM84 42h1v1h-1zM182 42h3v1h-3zM186 42h1v1h-1zM188 42h1v1h-1zM48 43h3v1h-3zM56 43h1v1h-1zM70 43h4v1h-4zM78 43h1v1h-1zM182 43h2v1h-2zM185 43h3v1h-3zM49 44h1v1h-1zM56 44h1v1h-1zM73 44h1v1h-1zM78 44h2v1h-2zM177 44h1v1h-1zM180 44h1v1h-1zM182 44h1v1h-1zM184 44h4v1h-4zM48 45h2v1h-2zM55 45h2v1h-2zM71 45h4v1h-4zM78 45h3v1h-3zM177 45h2v1h-2zM186 45h2v1h-2zM48 46h1v1h-1zM57 46h1v1h-1zM71 46h4v1h-4zM81 46h1v1h-1zM187 46h1v1h-1zM47 47h3v1h-3zM58 47h1v1h-1zM71 47h2v1h-2zM79 47h1v1h-1zM81 47h1v1h-1zM86 47h1v1h-1zM88 47h3v1h-3zM47 48h2v1h-2zM71 48h3v1h-3zM75 48h2v1h-2zM79 48h1v1h-1zM88 48h3v1h-3zM186 48h4v1h-4zM48 49h1v1h-1zM58 49h1v1h-1zM68 49h1v1h-1zM90 49h1v1h-1zM185 49h6v1h-6zM48 50h2v1h-2zM58 50h1v1h-1zM68 50h1v1h-1zM90 50h1v1h-1zM186 50h5v1h-5zM53 51h1v1h-1zM56 51h2v1h-2zM68 51h1v1h-1zM90 51h1v1h-1zM186 51h2v1h-2zM190 51h2v1h-2zM68 52h1v1h-1zM90 52h1v1h-1zM186 52h1v1h-1zM49 53h1v1h-1zM52 53h1v1h-1zM61 53h1v1h-1zM65 53h4v1h-4zM84 53h1v1h-1zM86 53h5v1h-5zM49 54h2v1h-2zM52 54h1v1h-1zM68 54h1v1h-1zM83 54h1v1h-1zM89 54h2v1h-2zM170 54h3v1h-3zM53 55h2v1h-2zM59 55h1v1h-1zM65 55h5v1h-5zM82 55h1v1h-1zM88 55h3v1h-3zM171 55h1v1h-1zM60 56h2v1h-2zM64 56h6v1h-6zM88 56h1v1h-1zM90 56h1v1h-1zM60 57h1v1h-1zM63 57h1v1h-1zM66 57h2v1h-2zM83 57h1v1h-1zM88 57h1v1h-1zM99 57h2v1h-2zM184 57h3v1h-3zM192 57h1v1h-1zM63 58h1v1h-1zM67 58h1v1h-1zM83 58h1v1h-1zM88 58h3v1h-3zM97 58h4v1h-4zM63 59h1v1h-1zM67 59h1v1h-1zM83 59h1v1h-1zM88 59h3v1h-3zM97 59h1v1h-1zM100 59h1v1h-1zM63 60h1v1h-1zM67 60h1v1h-1zM89 60h2v1h-2zM96 60h3v1h-3zM100 60h1v1h-1zM108 60h1v1h-1zM51 61h3v1h-3zM63 61h1v1h-1zM67 61h1v1h-1zM83 61h1v1h-1zM89 61h1v1h-1zM94 61h1v1h-1zM98 61h1v1h-1zM100 61h1v1h-1zM108 61h1v1h-1zM110 61h1v1h-1zM177 61h1v1h-1zM48 62h4v1h-4zM66 62h3v1h-3zM86 62h1v1h-1zM94 62h1v1h-1zM96 62h1v1h-1zM98 62h1v1h-1zM100 62h1v1h-1zM103 62h11v1h-11zM177 62h1v1h-1zM190 62h1v1h-1zM64 63h1v1h-1zM66 63h2v1h-2zM97 63h2v1h-2zM104 63h1v1h-1zM107 63h6v1h-6zM114 63h1v1h-1zM179 63h1v1h-1zM47 64h1v1h-1zM52 64h2v1h-2zM109 64h2v1h-2zM112 64h1v1h-1zM183 64h3v1h-3zM47 65h2v1h-2zM52 65h1v1h-1zM111 65h3v1h-3zM48 66h3v1h-3zM111 66h1v1h-1zM113 66h2v1h-2zM111 67h1v1h-1zM195 67h1v1h-1zM111 68h1v1h-1zM164 68h1v1h-1zM111 69h1v1h-1zM150 69h1v1h-1zM164 69h1v1h-1zM194 69h1v1h-1zM108 70h3v1h-3zM150 70h1v1h-1zM164 70h1v1h-1zM107 71h1v1h-1zM114 71h1v1h-1zM141 71h3v1h-3zM148 71h1v1h-1zM150 71h3v1h-3zM182 71h2v1h-2zM185 71h3v1h-3zM107 72h1v1h-1zM111 72h1v1h-1zM132 72h1v1h-1zM137 72h5v1h-5zM143 72h1v1h-1zM148 72h3v1h-3zM161 72h2v1h-2zM164 72h1v1h-1zM187 72h1v1h-1zM133 73h1v1h-1zM136 73h3v1h-3zM140 73h1v1h-1zM161 73h1v1h-1zM183 73h1v1h-1zM129 74h1v1h-1zM133 74h3v1h-3zM137 74h3v1h-3zM162 74h2v1h-2zM183 74h1v1h-1zM189 74h1v1h-1zM116 75h1v1h-1zM119 75h3v1h-3zM129 75h1v1h-1zM133 75h3v1h-3zM137 75h1v1h-1zM139 75h2v1h-2zM143 75h1v1h-1zM162 75h1v1h-1zM183 75h1v1h-1zM121 76h1v1h-1zM129 76h1v1h-1zM133 76h3v1h-3zM140 76h1v1h-1zM143 76h1v1h-1zM161 76h2v1h-2zM183 76h2v1h-2zM134 77h1v1h-1zM161 77h2v1h-2zM186 77h1v1h-1zM122 78h1v1h-1zM127 78h1v1h-1zM134 78h1v1h-1zM161 78h1v1h-1zM186 78h1v1h-1zM123 79h1v1h-1zM125 79h2v1h-2zM160 79h2v1h-2zM136 80h2v1h-2zM139 80h2v1h-2zM148 80h1v1h-1zM159 80h3v1h-3zM185 80h1v1h-1zM140 81h1v1h-1zM147 81h3v1h-3zM159 81h4v1h-4zM178 81h2v1h-2zM184 81h2v1h-2zM137 82h5v1h-5zM145 82h1v1h-1zM150 82h8v1h-8zM159 82h1v1h-1zM162 82h1v1h-1zM177 82h1v1h-1zM179 82h2v1h-2zM183 82h2v1h-2zM137 83h2v1h-2zM141 83h1v1h-1zM157 83h3v1h-3zM162 83h2v1h-2zM178 83h3v1h-3zM183 83h1v1h-1zM136 84h1v1h-1zM162 84h1v1h-1zM177 84h4v1h-4zM136 85h8v1h-8zM162 85h1v1h-1zM173 85h1v1h-1zM176 85h1v1h-1zM180 85h2v1h-2zM151 86h1v1h-1zM170 86h5v1h-5zM177 86h3v1h-3zM162 87h2v1h-2zM170 87h3v1h-3zM174 87h1v1h-1zM176 87h1v1h-1zM162 88h3v1h-3zM169 88h1v1h-1zM172 88h3v1h-3zM169 89h1v1h-1zM173 89h2v1h-2zM151 90h1v1h-1zM154 90h2v1h-2zM169 90h1v1h-1zM156 91h1v1h-1zM161 91h1v1h-1zM170 91h1v1h-1zM150 92h1v1h-1zM156 92h3v1h-3zM161 92h1v1h-1zM169 92h1v1h-1zM150 93h1v1h-1zM158 93h3v1h-3zM163 93h1v1h-1zM151 94h3v1h-3zM159 94h1v1h-1zM163 94h5v1h-5z"/>
<path fill="#7ffa00" d="M9 0h2v1h-2zM14 0h1v1h-1zM18 0h3v1h-3zM25 0h1v1h-1zM32 0h2v1h-2zM36 0h1v1h-1zM56 0h2v1h-2zM73 0h3v1h-3zM77 0h3v1h-3zM85 0h6v1h-6zM116 0h1v1h-1zM119 0h2v1h-2zM131 0h2v1h-2zM217 0h1v1h-1zM227 0h3v1h-3zM231 0h1v1h-1zM10 1h1v1h-1zM13 1h1v1h-1zM19 1h1v1h-1zM25 1h1v1h-1zM32 1h2v1h-2zM56 1h2v1h-2zM76 1h1v1h-1zM78 1h3v1h-3zM85 1h3v1h-3zM90 1h1v1h-1zM131 1h1v1h-1zM226 1h1v1h-1zM229 1h1v1h-1zM231 1h1v1h-1zM14 2h1v1h-1zM33 2h1v1h-1zM75 2h1v1h-1zM77 2h4v1h-4zM82 2h6v1h-6zM131 2h4v1h-4zM226 2h1v1h-1zM230 2h2v1h-2zM13 3h2v1h-2zM33 3h1v1h-1zM75 3h2v1h-2zM78 3h2v1h-2zM83 3h5v1h-5zM132 3h3v1h-3zM226 3h2v1h-2zM230 3h2v1h-2zM7 4h1v1h-1zM10 4h1v1h-1zM21 4h1v1h-1zM23 4h1v1h-1zM32 4h2v1h-2zM74 4h5v1h-5zM86 4h1v1h-1zM130 4h1v1h-1zM217 4h3v1h-3zM231 4h1v1h-1zM7 5h2v1h-2zM21 5h1v1h-1zM33 5h1v1h-1zM40 5h4v1h-4zM75 5h2v1h-2zM231 5h1v1h-1zM6 6h3v1h-3zM21 6h2v1h-2zM36 6h7v1h-7zM45 6h2v1h-2zM48 6h1v1h-1zM78 6h1v1h-1zM231 6h1v1h-1zM7 7h1v1h-1zM21 7h1v1h-1zM23 7h2v1h-2zM34 7h2v1h-2zM40 7h2v1h-2zM49 7h2v1h-2zM140 7h4v1h-4zM231 7h1v1h-1zM21 8h1v1h-1zM23 8h2v1h-2zM35 8h1v1h-1zM40 8h1v1h-1zM42 8h2v1h-2zM50 8h5v1h-5zM94 8h2v1h-2zM139 8h1v1h-1zM143 8h1v1h-1zM165 8h2v1h-2zM229 8h2v1h-2zM22 9h2v1h-2zM34 9h2v1h-2zM40 9h1v1h-1zM42 9h1v1h-1zM50 9h5v1h-5zM91 9h1v1h-1zM93 9h3v1h-3zM139 9h1v1h-1zM165 9h1v1h-1zM228 9h1v1h-1zM27 10h1v1h-1zM33 10h1v1h-1zM35 10h1v1h-1zM40 10h1v1h-1zM49 10h5v1h-5zM56 10h1v1h-1zM58 10h2v1h-2zM96 10h1v1h-1zM33 11h5v1h-5zM40 11h3v1h-3zM49 11h2v1h-2zM52 11h2v1h-2zM56 11h3v1h-3zM60 11h1v1h-1zM33 12h2v1h-2zM39 12h1v1h-1zM43 12h1v1h-1zM53 12h1v1h-1zM56 12h1v1h-1zM69 12h1v1h-1zM71 12h5v1h-5zM94 12h2v1h-2zM139 12h1v1h-1zM142 12h2v1h-2zM228 12h1v1h-1zM33 13h1v1h-1zM35 13h1v1h-1zM38 13h2v1h-2zM44 13h1v1h-1zM49 13h1v1h-1zM55 13h1v1h-1zM60 13h3v1h-3zM65 13h1v1h-1zM77 13h1v1h-1zM94 13h3v1h-3zM205 13h1v1h-1zM228 13h1v1h-1zM231 13h1v1h-1zM38 14h2v1h-2zM44 14h1v1h-1zM46 14h1v1h-1zM55 14h2v1h-2zM59 14h1v1h-1zM64 14h1v1h-1zM77 14h2v1h-2zM83 14h1v1h-1zM94 14h3v1h-3zM203 14h1v1h-1zM33 15h1v1h-1zM37 15h1v1h-1zM45 15h3v1h-3zM56 15h4v1h-4zM76 15h4v1h-4zM83 15h1v1h-1zM89 15h2v1h-2zM93 15h3v1h-3zM202 15h1v1h-1zM37 16h1v1h-1zM46 16h1v1h-1zM56 16h4v1h-4zM76 16h4v1h-4zM82 16h5v1h-5zM90 16h1v1h-1zM93 16h3v1h-3zM141 16h4v1h-4zM201 16h2v1h-2zM33 17h1v1h-1zM37 17h2v1h-2zM46 17h1v1h-1zM56 17h1v1h-1zM58 17h3v1h-3zM62 17h5v1h-5zM78 17h6v1h-6zM85 17h3v1h-3zM90 17h1v1h-1zM93 17h3v1h-3zM141 17h1v1h-1zM144 17h1v1h-1zM202 17h1v1h-1zM33 18h1v1h-1zM35 18h3v1h-3zM45 18h1v1h-1zM56 18h7v1h-7zM64 18h1v1h-1zM66 18h2v1h-2zM79 18h4v1h-4zM88 18h1v1h-1zM90 18h2v1h-2zM93 18h1v1h-1zM95 18h1v1h-1zM136 18h1v1h-1zM141 18h1v1h-1zM143 18h1v1h-1zM207 18h1v1h-1zM220 18h2v1h-2zM224 18h1v1h-1zM226 18h1v1h-1zM230 18h2v1h-2zM34 19h1v1h-1zM36 19h2v1h-2zM45 19h3v1h-3zM55 19h2v1h-2zM58 19h2v1h-2zM62 19h2v1h-2zM67 19h1v1h-1zM79 19h2v1h-2zM88 19h1v1h-1zM91 19h5v1h-5zM141 19h1v1h-1zM143 19h1v1h-1zM202 19h1v1h-1zM218 19h1v1h-1zM34 20h7v1h-7zM45 20h3v1h-3zM54 20h2v1h-2zM58 20h2v1h-2zM62 20h2v1h-2zM68 20h1v1h-1zM79 20h2v1h-2zM88 20h1v1h-1zM95 20h1v1h-1zM142 20h2v1h-2zM199 20h3v1h-3zM209 20h1v1h-1zM216 20h1v1h-1zM46 21h3v1h-3zM54 21h2v1h-2zM59 21h5v1h-5zM67 21h2v1h-2zM79 21h1v1h-1zM91 21h1v1h-1zM94 21h2v1h-2zM142 21h1v1h-1zM199 21h3v1h-3zM210 21h5v1h-5zM216 21h2v1h-2zM55 22h2v1h-2zM67 22h3v1h-3zM79 22h1v1h-1zM88 22h1v1h-1zM91 22h5v1h-5zM101 22h1v1h-1zM200 22h1v1h-1zM54 23h1v1h-1zM57 23h1v1h-1zM62 23h3v1h-3zM67 23h1v1h-1zM78 23h1v1h-1zM89 23h7v1h-7zM100 23h2v1h-2zM103 23h1v1h-1zM198 23h1v1h-1zM200 23h1v1h-1zM57 24h1v1h-1zM62 24h8v1h-8zM71 24h2v1h-2zM78 24h2v1h-2zM89 24h7v1h-7zM100 24h4v1h-4zM198 24h3v1h-3zM56 25h2v1h-2zM65 25h4v1h-4zM70 25h1v1h-1zM73 25h2v1h-2zM78 25h2v1h-2zM90 25h5v1h-5zM100 25h3v1h-3zM141 25h2v1h-2zM192 25h1v1h-1zM198 25h3v1h-3zM54 26h4v1h-4zM68 26h1v1h-1zM70 26h3v1h-3zM74 26h1v1h-1zM78 26h2v1h-2zM90 26h5v1h-5zM142 26h2v1h-2zM145 26h1v1h-1zM192 26h1v1h-1zM201 26h1v1h-1zM55 27h3v1h-3zM67 27h2v1h-2zM70 27h2v1h-2zM79 27h3v1h-3zM83 27h1v1h-1zM88 27h1v1h-1zM93 27h2v1h-2zM142 27h2v1h-2zM193 27h1v1h-1zM201 27h1v1h-1zM53 28h1v1h-1zM57 28h1v1h-1zM67 28h1v1h-1zM69 28h4v1h-4zM80 28h3v1h-3zM84 28h1v1h-1zM87 28h1v1h-1zM93 28h1v1h-1zM191 28h1v1h-1zM197 28h4v1h-4zM53 29h2v1h-2zM56 29h1v1h-1zM67 29h6v1h-6zM80 29h1v1h-1zM84 29h2v1h-2zM87 29h1v1h-1zM193 29h3v1h-3zM50 30h1v1h-1zM53 30h5v1h-5zM68 30h3v1h-3zM80 30h2v1h-2zM86 30h2v1h-2zM192 30h2v1h-2zM52 31h5v1h-5zM58 31h2v1h-2zM67 31h3v1h-3zM80 31h1v1h-1zM86 31h2v1h-2zM193 31h2v1h-2zM53 32h1v1h-1zM58 32h3v1h-3zM67 32h2v1h-2zM71 32h1v1h-1zM74 32h2v1h-2zM80 32h1v1h-1zM87 32h2v1h-2zM90 32h2v1h-2zM193 32h2v1h-2zM53 33h1v1h-1zM58 33h5v1h-5zM69 33h3v1h-3zM73 33h1v1h-1zM78 33h3v1h-3zM88 33h1v1h-1zM90 33h1v1h-1zM193 33h2v1h-2zM53 34h1v1h-1zM58 34h5v1h-5zM69 34h5v1h-5zM79 34h1v1h-1zM81 34h1v1h-1zM143 34h1v1h-1zM188 34h1v1h-1zM192 34h1v1h-1zM53 35h1v1h-1zM56 35h7v1h-7zM71 35h3v1h-3zM78 35h1v1h-1zM81 35h3v1h-3zM141 35h1v1h-1zM143 35h1v1h-1zM190 35h1v1h-1zM54 36h1v1h-1zM56 36h1v1h-1zM59 36h5v1h-5zM69 36h1v1h-1zM71 36h1v1h-1zM84 36h2v1h-2zM141 36h1v1h-1zM143 36h1v1h-1zM189 36h1v1h-1zM53 37h1v1h-1zM63 37h1v1h-1zM68 37h3v1h-3zM74 37h1v1h-1zM85 37h1v1h-1zM141 37h1v1h-1zM143 37h1v1h-1zM68 38h2v1h-2zM73 38h1v1h-1zM78 38h1v1h-1zM85 38h1v1h-1zM185 38h2v1h-2zM69 39h5v1h-5zM75 39h1v1h-1zM84 39h1v1h-1zM97 39h3v1h-3zM185 39h2v1h-2zM55 40h1v1h-1zM68 40h5v1h-5zM84 40h1v1h-1zM97 40h2v1h-2zM179 40h4v1h-4zM186 40h2v1h-2zM56 41h1v1h-1zM96 41h3v1h-3zM182 41h6v1h-6zM56 42h1v1h-1zM58 42h1v1h-1zM69 42h1v1h-1zM77 42h1v1h-1zM98 42h2v1h-2zM185 42h1v1h-1zM187 42h1v1h-1zM57 43h4v1h-4zM69 43h1v1h-1zM74 43h4v1h-4zM99 43h1v1h-1zM48 44h1v1h-1zM57 44h3v1h-3zM70 44h3v1h-3zM74 44h4v1h-4zM86 44h1v1h-1zM91 44h1v1h-1zM97 44h3v1h-3zM181 44h1v1h-1zM183 44h1v1h-1zM57 45h4v1h-4zM70 45h1v1h-1zM75 45h3v1h-3zM86 45h1v1h-1zM90 45h2v1h-2zM96 45h4v1h-4zM179 45h1v1h-1zM185 45h1v1h-1zM58 46h2v1h-2zM69 46h2v1h-2zM75 46h6v1h-6zM86 46h1v1h-1zM89 46h3v1h-3zM95 46h4v1h-4zM59 47h1v1h-1zM69 47h2v1h-2zM73 47h6v1h-6zM80 47h1v1h-1zM87 47h1v1h-1zM91 47h1v1h-1zM94 47h3v1h-3zM187 47h1v1h-1zM59 48h1v1h-1zM66 48h1v1h-1zM68 48h3v1h-3zM74 48h1v1h-1zM80 48h1v1h-1zM91 48h2v1h-2zM94 48h3v1h-3zM185 48h1v1h-1zM59 49h3v1h-3zM91 49h1v1h-1zM59 50h2v1h-2zM91 50h1v1h-1zM185 50h1v1h-1zM54 51h2v1h-2zM58 51h4v1h-4zM91 51h1v1h-1zM185 51h1v1h-1zM188 51h2v1h-2zM53 52h1v1h-1zM58 52h10v1h-10zM91 52h1v1h-1zM185 52h1v1h-1zM187 52h5v1h-5zM59 53h2v1h-2zM85 53h1v1h-1zM91 53h1v1h-1zM168 53h5v1h-5zM177 53h1v1h-1zM186 53h2v1h-2zM53 54h1v1h-1zM59 54h2v1h-2zM84 54h1v1h-1zM86 54h3v1h-3zM91 54h1v1h-1zM169 54h1v1h-1zM173 54h1v1h-1zM175 54h2v1h-2zM186 54h2v1h-2zM55 55h4v1h-4zM60 55h1v1h-1zM83 55h1v1h-1zM87 55h1v1h-1zM91 55h1v1h-1zM170 55h1v1h-1zM172 55h1v1h-1zM187 55h2v1h-2zM83 56h1v1h-1zM91 56h1v1h-1zM100 56h1v1h-1zM186 56h1v1h-1zM64 57h2v1h-2zM97 57h2v1h-2zM108 57h1v1h-1zM178 57h6v1h-6zM187 57h5v1h-5zM64 58h3v1h-3zM94 58h3v1h-3zM107 58h3v1h-3zM117 58h1v1h-1zM177 58h1v1h-1zM64 59h3v1h-3zM84 59h1v1h-1zM87 59h1v1h-1zM94 59h3v1h-3zM107 59h1v1h-1zM110 59h1v1h-1zM84 60h1v1h-1zM86 60h1v1h-1zM88 60h1v1h-1zM91 60h5v1h-5zM103 60h1v1h-1zM107 60h1v1h-1zM110 60h1v1h-1zM64 61h1v1h-1zM66 61h1v1h-1zM84 61h1v1h-1zM86 61h1v1h-1zM88 61h1v1h-1zM95 61h3v1h-3zM101 61h7v1h-7zM52 62h2v1h-2zM64 62h2v1h-2zM84 62h2v1h-2zM97 62h1v1h-1zM114 62h1v1h-1zM191 62h4v1h-4zM48 63h6v1h-6zM65 63h1v1h-1zM177 63h2v1h-2zM190 63h5v1h-5zM48 64h2v1h-2zM51 64h1v1h-1zM111 64h1v1h-1zM115 64h1v1h-1zM180 64h3v1h-3zM189 64h1v1h-1zM193 64h2v1h-2zM49 65h3v1h-3zM115 65h1v1h-1zM194 65h1v1h-1zM112 66h1v1h-1zM115 66h1v1h-1zM177 66h1v1h-1zM194 66h1v1h-1zM112 67h3v1h-3zM151 67h2v1h-2zM164 67h1v1h-1zM176 67h2v1h-2zM194 67h1v1h-1zM112 68h3v1h-3zM150 68h3v1h-3zM163 68h1v1h-1zM176 68h1v1h-1zM178 68h1v1h-1zM194 68h1v1h-1zM112 69h3v1h-3zM131 69h1v1h-1zM151 69h2v1h-2zM163 69h1v1h-1zM165 69h1v1h-1zM183 69h1v1h-1zM111 70h1v1h-1zM113 70h2v1h-2zM130 70h4v1h-4zM148 70h2v1h-2zM151 70h3v1h-3zM163 70h1v1h-1zM165 70h1v1h-1zM181 70h7v1h-7zM193 70h1v1h-1zM108 71h3v1h-3zM113 71h1v1h-1zM129 71h12v1h-12zM144 71h1v1h-1zM162 71h1v1h-1zM165 71h1v1h-1zM108 72h3v1h-3zM115 72h1v1h-1zM129 72h1v1h-1zM133 72h4v1h-4zM144 72h1v1h-1zM151 72h1v1h-1zM159 72h2v1h-2zM182 72h1v1h-1zM115 73h1v1h-1zM129 73h1v1h-1zM134 73h2v1h-2zM144 73h1v1h-1zM148 73h3v1h-3zM160 73h1v1h-1zM164 73h1v1h-1zM182 73h1v1h-1zM188 73h3v1h-3zM120 74h1v1h-1zM144 74h1v1h-1zM149 74h2v1h-2zM159 74h3v1h-3zM164 74h1v1h-1zM182 74h1v1h-1zM188 74h1v1h-1zM117 75h2v1h-2zM138 75h1v1h-1zM144 75h1v1h-1zM149 75h1v1h-1zM160 75h2v1h-2zM163 75h1v1h-1zM182 75h1v1h-1zM122 76h1v1h-1zM136 76h4v1h-4zM149 76h1v1h-1zM155 76h2v1h-2zM159 76h2v1h-2zM163 76h1v1h-1zM182 76h1v1h-1zM122 77h1v1h-1zM141 77h2v1h-2zM149 77h1v1h-1zM154 77h1v1h-1zM156 77h1v1h-1zM158 77h1v1h-1zM160 77h1v1h-1zM183 77h3v1h-3zM123 78h4v1h-4zM148 78h2v1h-2zM154 78h3v1h-3zM159 78h2v1h-2zM162 78h1v1h-1zM183 78h3v1h-3zM124 79h1v1h-1zM135 79h1v1h-1zM139 79h3v1h-3zM148 79h2v1h-2zM153 79h1v1h-1zM155 79h3v1h-3zM159 79h1v1h-1zM162 79h1v1h-1zM183 79h3v1h-3zM138 80h1v1h-1zM147 80h1v1h-1zM149 80h2v1h-2zM155 80h1v1h-1zM158 80h1v1h-1zM162 80h1v1h-1zM180 80h1v1h-1zM182 80h3v1h-3zM141 81h1v1h-1zM146 81h1v1h-1zM150 81h9v1h-9zM163 81h1v1h-1zM177 81h1v1h-1zM180 81h1v1h-1zM183 81h1v1h-1zM144 82h1v1h-1zM158 82h1v1h-1zM163 82h4v1h-4zM181 82h2v1h-2zM139 83h2v1h-2zM143 83h1v1h-1zM164 83h4v1h-4zM176 83h2v1h-2zM181 83h2v1h-2zM137 84h7v1h-7zM163 84h1v1h-1zM165 84h2v1h-2zM176 84h1v1h-1zM181 84h1v1h-1zM163 85h3v1h-3zM170 85h3v1h-3zM174 85h2v1h-2zM177 85h3v1h-3zM162 86h6v1h-6zM169 86h1v1h-1zM175 86h2v1h-2zM164 87h6v1h-6zM175 87h1v1h-1zM165 88h1v1h-1zM167 88h2v1h-2zM162 89h2v1h-2zM152 90h2v1h-2zM155 91h1v1h-1zM169 91h1v1h-1zM155 92h1v1h-1zM168 92h1v1h-1zM161 93h2v1h-2zM164 93h5v1h-5zM160 94h3v1h-3z"/>
<path fill="#adff2f" d="M34 0h2v1h-2zM37 0h4v1h-4zM43 0h1v1h-1zM55 0h1v1h-1zM58 0h3v1h-3zM62 0h9v1h-9zM72 0h1v1h-1zM76 0h1v1h-1zM80 0h5v1h-5zM91 0h1v1h-1zM117 0h2v1h-2zM121 0h2v1h-2zM133 0h1v1h-1zM230 0h1v1h-1zM34 1h6v1h-6zM55 1h1v1h-1zM73 1h3v1h-3zM77 1h1v1h-1zM81 1h4v1h-4zM88 1h2v1h-2zM116 1h5v1h-5zM130 1h1v1h-1zM132 1h5v1h-5zM227 1h2v1h-2zM230 1h1v1h-1zM34 2h4v1h-4zM44 2h1v1h-1zM55 2h2v1h-2zM73 2h2v1h-2zM76 2h1v1h-1zM81 2h1v1h-1zM88 2h3v1h-3zM116 2h4v1h-4zM130 2h1v1h-1zM135 2h1v1h-1zM227 2h3v1h-3zM34 3h4v1h-4zM43 3h2v1h-2zM74 3h1v1h-1zM80 3h3v1h-3zM88 3h3v1h-3zM116 3h2v1h-2zM130 3h2v1h-2zM228 3h2v1h-2zM34 4h11v1h-11zM48 4h2v1h-2zM57 4h1v1h-1zM73 4h1v1h-1zM79 4h7v1h-7zM87 4h3v1h-3zM131 4h4v1h-4zM220 4h1v1h-1zM222 4h6v1h-6zM230 4h1v1h-1zM6 5h1v1h-1zM34 5h6v1h-6zM44 5h7v1h-7zM57 5h1v1h-1zM74 5h1v1h-1zM77 5h5v1h-5zM84 5h1v1h-1zM87 5h1v1h-1zM89 5h1v1h-1zM129 5h2v1h-2zM133 5h2v1h-2zM230 5h1v1h-1zM34 6h2v1h-2zM47 6h1v1h-1zM49 6h3v1h-3zM55 6h1v1h-1zM57 6h1v1h-1zM76 6h2v1h-2zM79 6h3v1h-3zM84 6h2v1h-2zM97 6h1v1h-1zM130 6h2v1h-2zM139 6h5v1h-5zM221 6h1v1h-1zM22 7h1v1h-1zM45 7h1v1h-1zM48 7h1v1h-1zM51 7h5v1h-5zM77 7h7v1h-7zM85 7h1v1h-1zM94 7h4v1h-4zM130 7h3v1h-3zM139 7h1v1h-1zM144 7h1v1h-1zM166 7h1v1h-1zM211 7h6v1h-6zM220 7h1v1h-1zM229 7h2v1h-2zM22 8h1v1h-1zM34 8h1v1h-1zM41 8h1v1h-1zM44 8h1v1h-1zM49 8h1v1h-1zM55 8h1v1h-1zM79 8h1v1h-1zM83 8h1v1h-1zM85 8h2v1h-2zM90 8h4v1h-4zM96 8h2v1h-2zM131 8h2v1h-2zM144 8h1v1h-1zM164 8h1v1h-1zM167 8h1v1h-1zM210 8h5v1h-5zM228 8h1v1h-1zM41 9h1v1h-1zM43 9h1v1h-1zM49 9h1v1h-1zM55 9h2v1h-2zM85 9h1v1h-1zM90 9h1v1h-1zM92 9h1v1h-1zM96 9h2v1h-2zM131 9h1v1h-1zM137 9h1v1h-1zM144 9h1v1h-1zM163 9h2v1h-2zM166 9h2v1h-2zM210 9h4v1h-4zM227 9h1v1h-1zM34 10h1v1h-1zM41 10h3v1h-3zM54 10h2v1h-2zM57 10h1v1h-1zM60 10h1v1h-1zM85 10h1v1h-1zM90 10h6v1h-6zM135 10h4v1h-4zM144 10h1v1h-1zM164 10h4v1h-4zM227 10h1v1h-1zM43 11h1v1h-1zM54 11h2v1h-2zM59 11h1v1h-1zM61 11h2v1h-2zM65 11h2v1h-2zM69 11h5v1h-5zM88 11h9v1h-9zM133 11h6v1h-6zM144 11h1v1h-1zM227 11h1v1h-1zM35 12h4v1h-4zM44 12h1v1h-1zM49 12h1v1h-1zM54 12h2v1h-2zM57 12h1v1h-1zM59 12h10v1h-10zM76 12h2v1h-2zM88 12h6v1h-6zM96 12h1v1h-1zM134 12h5v1h-5zM144 12h1v1h-1zM227 12h1v1h-1zM34 13h1v1h-1zM36 13h2v1h-2zM56 13h4v1h-4zM63 13h2v1h-2zM78 13h5v1h-5zM90 13h1v1h-1zM92 13h2v1h-2zM132 13h12v1h-12zM202 13h3v1h-3zM206 13h1v1h-1zM229 13h2v1h-2zM33 14h5v1h-5zM45 14h1v1h-1zM47 14h2v1h-2zM57 14h2v1h-2zM84 14h1v1h-1zM86 14h8v1h-8zM132 14h4v1h-4zM140 14h5v1h-5zM200 14h1v1h-1zM202 14h1v1h-1zM207 14h1v1h-1zM212 14h1v1h-1zM228 14h1v1h-1zM231 14h1v1h-1zM34 15h3v1h-3zM84 15h5v1h-5zM91 15h2v1h-2zM96 15h2v1h-2zM132 15h2v1h-2zM140 15h4v1h-4zM200 15h2v1h-2zM225 15h3v1h-3zM231 15h1v1h-1zM33 16h4v1h-4zM87 16h3v1h-3zM91 16h2v1h-2zM96 16h1v1h-1zM135 16h2v1h-2zM140 16h1v1h-1zM200 16h1v1h-1zM231 16h1v1h-1zM34 17h3v1h-3zM88 17h2v1h-2zM91 17h2v1h-2zM96 17h1v1h-1zM135 17h3v1h-3zM140 17h1v1h-1zM145 17h1v1h-1zM198 17h4v1h-4zM207 17h1v1h-1zM226 17h1v1h-1zM231 17h1v1h-1zM34 18h1v1h-1zM63 18h1v1h-1zM65 18h1v1h-1zM89 18h1v1h-1zM92 18h1v1h-1zM94 18h1v1h-1zM96 18h1v1h-1zM137 18h1v1h-1zM140 18h1v1h-1zM144 18h1v1h-1zM198 18h5v1h-5zM208 18h1v1h-1zM219 18h1v1h-1zM222 18h2v1h-2zM225 18h1v1h-1zM227 18h3v1h-3zM35 19h1v1h-1zM57 19h1v1h-1zM64 19h1v1h-1zM66 19h1v1h-1zM89 19h2v1h-2zM106 19h2v1h-2zM140 19h1v1h-1zM197 19h5v1h-5zM209 19h1v1h-1zM217 19h1v1h-1zM56 20h2v1h-2zM64 20h1v1h-1zM67 20h1v1h-1zM89 20h6v1h-6zM96 20h1v1h-1zM141 20h1v1h-1zM198 20h1v1h-1zM210 20h6v1h-6zM56 21h3v1h-3zM64 21h1v1h-1zM66 21h1v1h-1zM89 21h2v1h-2zM92 21h2v1h-2zM96 21h1v1h-1zM103 21h4v1h-4zM141 21h1v1h-1zM143 21h1v1h-1zM198 21h1v1h-1zM54 22h1v1h-1zM57 22h8v1h-8zM66 22h1v1h-1zM89 22h2v1h-2zM96 22h2v1h-2zM100 22h1v1h-1zM102 22h5v1h-5zM142 22h2v1h-2zM197 22h3v1h-3zM58 23h4v1h-4zM65 23h2v1h-2zM96 23h2v1h-2zM99 23h1v1h-1zM102 23h1v1h-1zM104 23h1v1h-1zM106 23h1v1h-1zM141 23h4v1h-4zM197 23h1v1h-1zM199 23h1v1h-1zM58 24h1v1h-1zM61 24h1v1h-1zM96 24h1v1h-1zM99 24h1v1h-1zM104 24h1v1h-1zM106 24h1v1h-1zM141 24h6v1h-6zM197 24h1v1h-1zM58 25h7v1h-7zM71 25h2v1h-2zM89 25h1v1h-1zM95 25h1v1h-1zM99 25h1v1h-1zM103 25h1v1h-1zM140 25h1v1h-1zM143 25h4v1h-4zM191 25h1v1h-1zM193 25h1v1h-1zM197 25h1v1h-1zM58 26h1v1h-1zM63 26h5v1h-5zM89 26h1v1h-1zM95 26h1v1h-1zM99 26h4v1h-4zM141 26h1v1h-1zM144 26h1v1h-1zM146 26h1v1h-1zM191 26h1v1h-1zM193 26h1v1h-1zM198 26h3v1h-3zM58 27h1v1h-1zM63 27h2v1h-2zM66 27h1v1h-1zM89 27h4v1h-4zM95 27h2v1h-2zM144 27h3v1h-3zM151 27h1v1h-1zM191 27h2v1h-2zM194 27h1v1h-1zM197 27h2v1h-2zM58 28h1v1h-1zM63 28h4v1h-4zM83 28h1v1h-1zM88 28h1v1h-1zM94 28h4v1h-4zM142 28h1v1h-1zM151 28h2v1h-2zM190 28h1v1h-1zM192 28h3v1h-3zM196 28h1v1h-1zM57 29h1v1h-1zM63 29h4v1h-4zM81 29h3v1h-3zM88 29h2v1h-2zM96 29h2v1h-2zM152 29h1v1h-1zM191 29h2v1h-2zM58 30h1v1h-1zM62 30h1v1h-1zM64 30h4v1h-4zM82 30h4v1h-4zM88 30h4v1h-4zM96 30h2v1h-2zM191 30h1v1h-1zM57 31h1v1h-1zM60 31h1v1h-1zM62 31h5v1h-5zM81 31h5v1h-5zM88 31h4v1h-4zM192 31h1v1h-1zM54 32h4v1h-4zM61 32h3v1h-3zM65 32h2v1h-2zM81 32h6v1h-6zM89 32h1v1h-1zM187 32h1v1h-1zM54 33h4v1h-4zM63 33h6v1h-6zM74 33h4v1h-4zM81 33h7v1h-7zM89 33h1v1h-1zM91 33h1v1h-1zM141 33h2v1h-2zM187 33h2v1h-2zM192 33h1v1h-1zM54 34h4v1h-4zM63 34h4v1h-4zM68 34h1v1h-1zM74 34h2v1h-2zM78 34h1v1h-1zM82 34h10v1h-10zM141 34h1v1h-1zM153 34h1v1h-1zM187 34h1v1h-1zM189 34h3v1h-3zM54 35h2v1h-2zM63 35h6v1h-6zM74 35h2v1h-2zM84 35h8v1h-8zM155 35h2v1h-2zM55 36h1v1h-1zM57 36h2v1h-2zM64 36h1v1h-1zM66 36h3v1h-3zM74 36h1v1h-1zM78 36h1v1h-1zM86 36h5v1h-5zM184 36h1v1h-1zM54 37h1v1h-1zM59 37h4v1h-4zM64 37h1v1h-1zM66 37h2v1h-2zM75 37h1v1h-1zM78 37h1v1h-1zM86 37h5v1h-5zM96 37h1v1h-1zM184 37h1v1h-1zM53 38h1v1h-1zM58 38h2v1h-2zM62 38h3v1h-3zM66 38h2v1h-2zM74 38h4v1h-4zM86 38h1v1h-1zM88 38h1v1h-1zM95 38h5v1h-5zM138 38h2v1h-2zM141 38h2v1h-2zM184 38h1v1h-1zM53 39h2v1h-2zM58 39h2v1h-2zM64 39h1v1h-1zM66 39h3v1h-3zM85 39h1v1h-1zM94 39h3v1h-3zM100 39h1v1h-1zM139 39h1v1h-1zM180 39h5v1h-5zM56 40h2v1h-2zM67 40h1v1h-1zM94 40h3v1h-3zM99 40h1v1h-1zM103 40h1v1h-1zM183 40h3v1h-3zM57 41h6v1h-6zM66 41h3v1h-3zM88 41h1v1h-1zM94 41h2v1h-2zM99 41h2v1h-2zM177 41h1v1h-1zM57 42h1v1h-1zM59 42h5v1h-5zM68 42h1v1h-1zM85 42h1v1h-1zM89 42h2v1h-2zM96 42h2v1h-2zM100 42h4v1h-4zM61 43h3v1h-3zM68 43h1v1h-1zM86 43h6v1h-6zM95 43h4v1h-4zM100 43h4v1h-4zM149 43h1v1h-1zM60 44h6v1h-6zM69 44h1v1h-1zM87 44h4v1h-4zM94 44h3v1h-3zM100 44h4v1h-4zM61 45h2v1h-2zM64 45h2v1h-2zM68 45h2v1h-2zM87 45h3v1h-3zM94 45h2v1h-2zM100 45h4v1h-4zM109 45h1v1h-1zM111 45h1v1h-1zM184 45h1v1h-1zM60 46h5v1h-5zM68 46h1v1h-1zM87 46h2v1h-2zM92 46h1v1h-1zM94 46h1v1h-1zM99 46h3v1h-3zM109 46h1v1h-1zM178 46h1v1h-1zM185 46h2v1h-2zM60 47h5v1h-5zM67 47h2v1h-2zM92 47h2v1h-2zM97 47h4v1h-4zM109 47h1v1h-1zM185 47h2v1h-2zM60 48h5v1h-5zM67 48h1v1h-1zM93 48h1v1h-1zM97 48h4v1h-4zM109 48h1v1h-1zM62 49h6v1h-6zM92 49h1v1h-1zM109 49h1v1h-1zM61 50h1v1h-1zM65 50h3v1h-3zM92 50h1v1h-1zM109 50h2v1h-2zM169 50h1v1h-1zM62 51h6v1h-6zM92 51h1v1h-1zM109 51h4v1h-4zM55 52h3v1h-3zM110 52h3v1h-3zM168 52h4v1h-4zM177 52h2v1h-2zM53 53h1v1h-1zM58 53h1v1h-1zM110 53h3v1h-3zM173 53h4v1h-4zM178 53h2v1h-2zM185 53h1v1h-1zM188 53h1v1h-1zM192 53h1v1h-1zM54 54h1v1h-1zM58 54h1v1h-1zM85 54h1v1h-1zM168 54h1v1h-1zM174 54h1v1h-1zM177 54h2v1h-2zM185 54h1v1h-1zM188 54h2v1h-2zM192 54h1v1h-1zM84 55h1v1h-1zM86 55h1v1h-1zM108 55h2v1h-2zM167 55h1v1h-1zM169 55h1v1h-1zM173 55h6v1h-6zM184 55h3v1h-3zM189 55h1v1h-1zM192 55h1v1h-1zM84 56h2v1h-2zM87 56h1v1h-1zM98 56h2v1h-2zM101 56h1v1h-1zM107 56h3v1h-3zM170 56h3v1h-3zM175 56h5v1h-5zM184 56h2v1h-2zM187 56h3v1h-3zM192 56h1v1h-1zM84 57h1v1h-1zM86 57h2v1h-2zM91 57h1v1h-1zM96 57h1v1h-1zM101 57h1v1h-1zM105 57h3v1h-3zM109 57h1v1h-1zM116 57h3v1h-3zM176 57h2v1h-2zM84 58h1v1h-1zM87 58h1v1h-1zM91 58h3v1h-3zM101 58h3v1h-3zM106 58h1v1h-1zM110 58h1v1h-1zM116 58h1v1h-1zM118 58h3v1h-3zM85 59h2v1h-2zM91 59h3v1h-3zM101 59h1v1h-1zM103 59h1v1h-1zM106 59h1v1h-1zM116 59h3v1h-3zM120 59h1v1h-1zM176 59h1v1h-1zM64 60h3v1h-3zM85 60h1v1h-1zM87 60h1v1h-1zM101 60h2v1h-2zM104 60h3v1h-3zM116 60h2v1h-2zM120 60h1v1h-1zM176 60h1v1h-1zM65 61h1v1h-1zM85 61h1v1h-1zM87 61h1v1h-1zM111 61h4v1h-4zM173 61h2v1h-2zM176 61h1v1h-1zM171 62h4v1h-4zM176 62h1v1h-1zM115 63h1v1h-1zM171 63h4v1h-4zM176 63h1v1h-1zM50 64h1v1h-1zM122 64h4v1h-4zM177 64h3v1h-3zM190 64h3v1h-3zM120 65h6v1h-6zM176 65h14v1h-14zM193 65h1v1h-1zM122 66h5v1h-5zM151 66h3v1h-3zM175 66h2v1h-2zM178 66h2v1h-2zM181 66h3v1h-3zM115 67h1v1h-1zM150 67h1v1h-1zM153 67h2v1h-2zM163 67h1v1h-1zM165 67h1v1h-1zM175 67h1v1h-1zM178 67h6v1h-6zM115 68h1v1h-1zM128 68h4v1h-4zM153 68h2v1h-2zM165 68h1v1h-1zM175 68h1v1h-1zM177 68h1v1h-1zM179 68h5v1h-5zM185 68h1v1h-1zM193 68h1v1h-1zM115 69h1v1h-1zM128 69h3v1h-3zM132 69h1v1h-1zM145 69h2v1h-2zM149 69h1v1h-1zM153 69h2v1h-2zM175 69h8v1h-8zM184 69h1v1h-1zM187 69h1v1h-1zM193 69h1v1h-1zM112 70h1v1h-1zM115 70h1v1h-1zM128 70h2v1h-2zM138 70h4v1h-4zM143 70h5v1h-5zM162 70h1v1h-1zM177 70h2v1h-2zM180 70h1v1h-1zM111 71h2v1h-2zM115 71h1v1h-1zM128 71h1v1h-1zM145 71h3v1h-3zM153 71h1v1h-1zM158 71h2v1h-2zM161 71h1v1h-1zM188 71h1v1h-1zM192 71h1v1h-1zM128 72h1v1h-1zM147 72h1v1h-1zM165 72h1v1h-1zM188 72h2v1h-2zM191 72h1v1h-1zM128 73h1v1h-1zM151 73h1v1h-1zM159 73h1v1h-1zM116 74h1v1h-1zM118 74h2v1h-2zM121 74h2v1h-2zM128 74h1v1h-1zM148 74h1v1h-1zM151 74h1v1h-1zM158 74h1v1h-1zM122 75h1v1h-1zM128 75h1v1h-1zM148 75h1v1h-1zM150 75h2v1h-2zM156 75h4v1h-4zM128 76h1v1h-1zM144 76h1v1h-1zM148 76h1v1h-1zM150 76h2v1h-2zM154 76h1v1h-1zM157 76h2v1h-2zM135 77h1v1h-1zM140 77h1v1h-1zM143 77h1v1h-1zM147 77h2v1h-2zM150 77h4v1h-4zM155 77h1v1h-1zM157 77h1v1h-1zM159 77h1v1h-1zM140 78h3v1h-3zM147 78h1v1h-1zM150 78h4v1h-4zM157 78h2v1h-2zM136 79h1v1h-1zM138 79h1v1h-1zM142 79h1v1h-1zM147 79h1v1h-1zM150 79h3v1h-3zM154 79h1v1h-1zM158 79h1v1h-1zM141 80h3v1h-3zM151 80h4v1h-4zM156 80h2v1h-2zM177 80h3v1h-3zM181 80h1v1h-1zM142 81h4v1h-4zM164 81h1v1h-1zM176 81h1v1h-1zM181 81h2v1h-2zM143 82h1v1h-1zM167 82h1v1h-1zM175 82h2v1h-2zM142 83h1v1h-1zM175 83h1v1h-1zM164 84h1v1h-1zM167 84h1v1h-1zM172 84h4v1h-4zM166 85h4v1h-4zM168 86h1v1h-1zM166 88h1v1h-1zM164 89h5v1h-5zM162 90h1v1h-1zM168 90h1v1h-1zM151 91h2v1h-2zM154 91h1v1h-1zM162 91h1v1h-1zM168 91h1v1h-1zM151 92h1v1h-1zM162 92h3v1h-3zM151 93h1v1h-1zM154 93h1v1h-1z"/>
<path fill="#ffff00" d="M41 0h2v1h-2zM44 0h5v1h-5zM61 0h1v1h-1zM71 0h1v1h-1zM123 0h5v1h-5zM130 0h1v1h-1zM134 0h3v1h-3zM138 0h1v1h-1zM155 0h3v1h-3zM40 1h9v1h-9zM58 1h2v1h-2zM64 1h9v1h-9zM91 1h1v1h-1zM121 1h4v1h-4zM137 1h2v1h-2zM155 1h3v1h-3zM211 1h2v1h-2zM38 2h6v1h-6zM45 2h4v1h-4zM57 2h2v1h-2zM66 2h5v1h-5zM72 2h1v1h-1zM91 2h1v1h-1zM120 2h4v1h-4zM136 2h2v1h-2zM139 2h1v1h-1zM157 2h1v1h-1zM210 2h3v1h-3zM38 3h5v1h-5zM45 3h5v1h-5zM55 3h3v1h-3zM67 3h3v1h-3zM72 3h2v1h-2zM91 3h1v1h-1zM115 3h1v1h-1zM118 3h2v1h-2zM129 3h1v1h-1zM135 3h3v1h-3zM209 3h1v1h-1zM212 3h1v1h-1zM45 4h3v1h-3zM50 4h2v1h-2zM55 4h2v1h-2zM68 4h3v1h-3zM72 4h1v1h-1zM90 4h2v1h-2zM116 4h2v1h-2zM129 4h1v1h-1zM135 4h2v1h-2zM221 4h1v1h-1zM228 4h2v1h-2zM51 5h2v1h-2zM54 5h3v1h-3zM68 5h1v1h-1zM70 5h4v1h-4zM82 5h2v1h-2zM85 5h2v1h-2zM88 5h1v1h-1zM90 5h1v1h-1zM97 5h1v1h-1zM131 5h2v1h-2zM135 5h1v1h-1zM220 5h5v1h-5zM227 5h3v1h-3zM52 6h3v1h-3zM56 6h1v1h-1zM58 6h2v1h-2zM75 6h1v1h-1zM82 6h2v1h-2zM86 6h2v1h-2zM89 6h2v1h-2zM95 6h2v1h-2zM128 6h2v1h-2zM132 6h3v1h-3zM138 6h1v1h-1zM144 6h1v1h-1zM146 6h2v1h-2zM150 6h1v1h-1zM155 6h1v1h-1zM212 6h2v1h-2zM215 6h2v1h-2zM220 6h1v1h-1zM222 6h2v1h-2zM227 6h4v1h-4zM46 7h2v1h-2zM56 7h4v1h-4zM76 7h1v1h-1zM84 7h1v1h-1zM86 7h1v1h-1zM90 7h4v1h-4zM128 7h2v1h-2zM133 7h2v1h-2zM138 7h1v1h-1zM145 7h1v1h-1zM150 7h1v1h-1zM155 7h2v1h-2zM165 7h1v1h-1zM167 7h1v1h-1zM210 7h1v1h-1zM221 7h2v1h-2zM227 7h2v1h-2zM45 8h1v1h-1zM48 8h1v1h-1zM56 8h1v1h-1zM58 8h3v1h-3zM78 8h1v1h-1zM80 8h3v1h-3zM84 8h1v1h-1zM89 8h1v1h-1zM129 8h2v1h-2zM133 8h2v1h-2zM136 8h3v1h-3zM149 8h3v1h-3zM168 8h1v1h-1zM215 8h3v1h-3zM220 8h2v1h-2zM227 8h1v1h-1zM44 9h1v1h-1zM48 9h1v1h-1zM57 9h5v1h-5zM66 9h1v1h-1zM84 9h1v1h-1zM86 9h1v1h-1zM89 9h1v1h-1zM130 9h1v1h-1zM132 9h5v1h-5zM138 9h1v1h-1zM149 9h3v1h-3zM209 9h1v1h-1zM214 9h1v1h-1zM44 10h1v1h-1zM48 10h1v1h-1zM61 10h7v1h-7zM69 10h4v1h-4zM86 10h4v1h-4zM97 10h1v1h-1zM130 10h5v1h-5zM147 10h5v1h-5zM163 10h1v1h-1zM209 10h2v1h-2zM44 11h1v1h-1zM48 11h1v1h-1zM63 11h2v1h-2zM67 11h2v1h-2zM74 11h2v1h-2zM85 11h3v1h-3zM131 11h2v1h-2zM145 11h1v1h-1zM147 11h4v1h-4zM163 11h1v1h-1zM166 11h2v1h-2zM209 11h1v1h-1zM58 12h1v1h-1zM78 12h1v1h-1zM85 12h3v1h-3zM131 12h3v1h-3zM202 12h2v1h-2zM205 12h2v1h-2zM45 13h2v1h-2zM48 13h1v1h-1zM85 13h5v1h-5zM91 13h1v1h-1zM131 13h1v1h-1zM144 13h1v1h-1zM160 13h1v1h-1zM198 13h4v1h-4zM207 13h1v1h-1zM212 13h1v1h-1zM227 13h1v1h-1zM85 14h1v1h-1zM97 14h1v1h-1zM131 14h1v1h-1zM136 14h4v1h-4zM161 14h1v1h-1zM198 14h2v1h-2zM201 14h1v1h-1zM208 14h1v1h-1zM210 14h2v1h-2zM213 14h1v1h-1zM225 14h3v1h-3zM229 14h2v1h-2zM98 15h2v1h-2zM131 15h1v1h-1zM134 15h4v1h-4zM139 15h1v1h-1zM144 15h2v1h-2zM161 15h1v1h-1zM198 15h2v1h-2zM207 15h7v1h-7zM224 15h1v1h-1zM228 15h3v1h-3zM97 16h1v1h-1zM105 16h2v1h-2zM134 16h1v1h-1zM137 16h1v1h-1zM139 16h1v1h-1zM145 16h1v1h-1zM160 16h2v1h-2zM197 16h3v1h-3zM207 16h1v1h-1zM209 16h1v1h-1zM213 16h1v1h-1zM224 16h4v1h-4zM230 16h1v1h-1zM97 17h1v1h-1zM105 17h3v1h-3zM134 17h1v1h-1zM138 17h2v1h-2zM160 17h2v1h-2zM197 17h1v1h-1zM208 17h1v1h-1zM219 17h7v1h-7zM230 17h1v1h-1zM105 18h4v1h-4zM135 18h1v1h-1zM138 18h2v1h-2zM145 18h1v1h-1zM148 18h1v1h-1zM196 18h2v1h-2zM215 18h2v1h-2zM218 18h1v1h-1zM65 19h1v1h-1zM96 19h1v1h-1zM104 19h2v1h-2zM108 19h1v1h-1zM135 19h5v1h-5zM144 19h1v1h-1zM148 19h1v1h-1zM196 19h1v1h-1zM210 19h1v1h-1zM214 19h3v1h-3zM65 20h2v1h-2zM97 20h1v1h-1zM103 20h5v1h-5zM140 20h1v1h-1zM196 20h2v1h-2zM65 21h1v1h-1zM97 21h1v1h-1zM100 21h3v1h-3zM107 21h1v1h-1zM140 21h1v1h-1zM144 21h1v1h-1zM197 21h1v1h-1zM65 22h1v1h-1zM98 22h2v1h-2zM107 22h1v1h-1zM140 22h2v1h-2zM144 22h2v1h-2zM98 23h1v1h-1zM105 23h1v1h-1zM107 23h1v1h-1zM140 23h1v1h-1zM145 23h1v1h-1zM59 24h2v1h-2zM97 24h2v1h-2zM105 24h1v1h-1zM138 24h3v1h-3zM147 24h1v1h-1zM149 24h3v1h-3zM192 24h2v1h-2zM196 24h1v1h-1zM96 25h3v1h-3zM104 25h4v1h-4zM138 25h2v1h-2zM147 25h1v1h-1zM150 25h3v1h-3zM59 26h4v1h-4zM96 26h3v1h-3zM103 26h4v1h-4zM139 26h2v1h-2zM147 26h1v1h-1zM150 26h3v1h-3zM197 26h1v1h-1zM59 27h2v1h-2zM62 27h1v1h-1zM65 27h1v1h-1zM97 27h2v1h-2zM105 27h1v1h-1zM139 27h3v1h-3zM147 27h1v1h-1zM150 27h1v1h-1zM152 27h1v1h-1zM189 27h2v1h-2zM199 27h2v1h-2zM59 28h1v1h-1zM62 28h1v1h-1zM89 28h4v1h-4zM98 28h1v1h-1zM133 28h2v1h-2zM140 28h2v1h-2zM143 28h1v1h-1zM150 28h1v1h-1zM153 28h1v1h-1zM188 28h2v1h-2zM195 28h1v1h-1zM58 29h2v1h-2zM62 29h1v1h-1zM90 29h6v1h-6zM98 29h1v1h-1zM104 29h6v1h-6zM133 29h1v1h-1zM141 29h1v1h-1zM150 29h2v1h-2zM153 29h1v1h-1zM189 29h2v1h-2zM59 30h2v1h-2zM63 30h1v1h-1zM92 30h1v1h-1zM95 30h1v1h-1zM98 30h1v1h-1zM104 30h6v1h-6zM140 30h2v1h-2zM152 30h1v1h-1zM189 30h2v1h-2zM61 31h1v1h-1zM92 31h1v1h-1zM96 31h3v1h-3zM100 31h10v1h-10zM138 31h3v1h-3zM187 31h1v1h-1zM64 32h1v1h-1zM92 32h1v1h-1zM94 32h4v1h-4zM103 32h6v1h-6zM139 32h2v1h-2zM188 32h1v1h-1zM192 32h1v1h-1zM94 33h4v1h-4zM103 33h6v1h-6zM140 33h1v1h-1zM143 33h1v1h-1zM152 33h3v1h-3zM189 33h1v1h-1zM191 33h1v1h-1zM67 34h1v1h-1zM76 34h2v1h-2zM95 34h1v1h-1zM97 34h1v1h-1zM103 34h6v1h-6zM140 34h1v1h-1zM152 34h1v1h-1zM154 34h3v1h-3zM76 35h2v1h-2zM97 35h2v1h-2zM104 35h2v1h-2zM139 35h2v1h-2zM152 35h3v1h-3zM185 35h1v1h-1zM65 36h1v1h-1zM75 36h3v1h-3zM91 36h1v1h-1zM93 36h1v1h-1zM96 36h3v1h-3zM103 36h4v1h-4zM138 36h3v1h-3zM144 36h1v1h-1zM154 36h3v1h-3zM55 37h1v1h-1zM58 37h1v1h-1zM65 37h1v1h-1zM76 37h2v1h-2zM91 37h3v1h-3zM95 37h1v1h-1zM97 37h2v1h-2zM103 37h4v1h-4zM138 37h3v1h-3zM154 37h3v1h-3zM54 38h1v1h-1zM56 38h2v1h-2zM60 38h2v1h-2zM65 38h1v1h-1zM87 38h1v1h-1zM89 38h6v1h-6zM100 38h1v1h-1zM103 38h5v1h-5zM140 38h1v1h-1zM143 38h1v1h-1zM156 38h1v1h-1zM181 38h1v1h-1zM55 39h3v1h-3zM60 39h4v1h-4zM65 39h1v1h-1zM86 39h4v1h-4zM93 39h1v1h-1zM101 39h6v1h-6zM138 39h1v1h-1zM140 39h2v1h-2zM179 39h1v1h-1zM58 40h9v1h-9zM85 40h7v1h-7zM93 40h1v1h-1zM100 40h3v1h-3zM104 40h3v1h-3zM138 40h2v1h-2zM178 40h1v1h-1zM63 41h3v1h-3zM85 41h1v1h-1zM87 41h1v1h-1zM89 41h5v1h-5zM101 41h7v1h-7zM64 42h4v1h-4zM86 42h3v1h-3zM91 42h5v1h-5zM104 42h1v1h-1zM106 42h3v1h-3zM110 42h1v1h-1zM139 42h1v1h-1zM146 42h4v1h-4zM64 43h4v1h-4zM92 43h3v1h-3zM104 43h9v1h-9zM138 43h4v1h-4zM147 43h2v1h-2zM150 43h1v1h-1zM169 43h1v1h-1zM66 44h3v1h-3zM92 44h2v1h-2zM104 44h2v1h-2zM107 44h6v1h-6zM140 44h2v1h-2zM148 44h4v1h-4zM167 44h1v1h-1zM169 44h2v1h-2zM63 45h1v1h-1zM66 45h2v1h-2zM92 45h2v1h-2zM104 45h1v1h-1zM108 45h1v1h-1zM110 45h1v1h-1zM112 45h1v1h-1zM166 45h4v1h-4zM180 45h4v1h-4zM65 46h3v1h-3zM93 46h1v1h-1zM102 46h2v1h-2zM108 46h1v1h-1zM110 46h3v1h-3zM177 46h1v1h-1zM179 46h1v1h-1zM184 46h1v1h-1zM65 47h2v1h-2zM101 47h2v1h-2zM108 47h1v1h-1zM110 47h3v1h-3zM178 47h1v1h-1zM184 47h1v1h-1zM65 48h1v1h-1zM101 48h3v1h-3zM108 48h1v1h-1zM110 48h3v1h-3zM166 48h4v1h-4zM183 48h2v1h-2zM93 49h9v1h-9zM108 49h1v1h-1zM110 49h2v1h-2zM166 49h4v1h-4zM183 49h2v1h-2zM62 50h3v1h-3zM93 50h3v1h-3zM97 50h5v1h-5zM111 50h3v1h-3zM166 50h3v1h-3zM170 50h1v1h-1zM184 50h1v1h-1zM97 51h5v1h-5zM113 51h1v1h-1zM166 51h6v1h-6zM54 52h1v1h-1zM92 52h1v1h-1zM96 52h2v1h-2zM109 52h1v1h-1zM113 52h1v1h-1zM166 52h2v1h-2zM172 52h2v1h-2zM176 52h1v1h-1zM179 52h4v1h-4zM184 52h1v1h-1zM54 53h4v1h-4zM92 53h1v1h-1zM97 53h1v1h-1zM107 53h3v1h-3zM113 53h1v1h-1zM167 53h1v1h-1zM180 53h5v1h-5zM189 53h3v1h-3zM55 54h3v1h-3zM107 54h6v1h-6zM167 54h1v1h-1zM179 54h3v1h-3zM183 54h2v1h-2zM190 54h2v1h-2zM85 55h1v1h-1zM92 55h1v1h-1zM98 55h1v1h-1zM100 55h8v1h-8zM110 55h1v1h-1zM166 55h1v1h-1zM168 55h1v1h-1zM179 55h1v1h-1zM183 55h1v1h-1zM190 55h2v1h-2zM86 56h1v1h-1zM92 56h1v1h-1zM97 56h1v1h-1zM102 56h1v1h-1zM105 56h2v1h-2zM110 56h1v1h-1zM116 56h1v1h-1zM165 56h5v1h-5zM173 56h2v1h-2zM180 56h4v1h-4zM190 56h2v1h-2zM85 57h1v1h-1zM92 57h4v1h-4zM102 57h3v1h-3zM110 57h1v1h-1zM115 57h1v1h-1zM119 57h1v1h-1zM168 57h1v1h-1zM172 57h4v1h-4zM85 58h2v1h-2zM104 58h2v1h-2zM115 58h1v1h-1zM121 58h1v1h-1zM173 58h4v1h-4zM102 59h1v1h-1zM104 59h2v1h-2zM115 59h1v1h-1zM119 59h1v1h-1zM121 59h1v1h-1zM173 59h1v1h-1zM111 60h5v1h-5zM118 60h2v1h-2zM121 60h1v1h-1zM170 60h5v1h-5zM115 61h2v1h-2zM118 61h1v1h-1zM120 61h3v1h-3zM170 61h3v1h-3zM175 61h1v1h-1zM115 62h1v1h-1zM170 62h1v1h-1zM175 62h1v1h-1zM123 63h3v1h-3zM170 63h1v1h-1zM175 63h1v1h-1zM116 64h1v1h-1zM120 64h2v1h-2zM126 64h1v1h-1zM170 64h7v1h-7zM116 65h1v1h-1zM118 65h2v1h-2zM126 65h1v1h-1zM174 65h2v1h-2zM190 65h1v1h-1zM192 65h1v1h-1zM116 66h1v1h-1zM119 66h3v1h-3zM154 66h1v1h-1zM174 66h1v1h-1zM180 66h1v1h-1zM184 66h3v1h-3zM188 66h1v1h-1zM193 66h1v1h-1zM116 67h1v1h-1zM118 67h6v1h-6zM125 67h4v1h-4zM147 67h1v1h-1zM155 67h1v1h-1zM174 67h1v1h-1zM184 67h3v1h-3zM193 67h1v1h-1zM121 68h2v1h-2zM125 68h3v1h-3zM132 68h1v1h-1zM145 68h5v1h-5zM155 68h1v1h-1zM174 68h1v1h-1zM184 68h1v1h-1zM186 68h1v1h-1zM188 68h1v1h-1zM126 69h2v1h-2zM144 69h1v1h-1zM147 69h2v1h-2zM162 69h1v1h-1zM174 69h1v1h-1zM185 69h2v1h-2zM188 69h1v1h-1zM192 69h1v1h-1zM134 70h4v1h-4zM142 70h1v1h-1zM154 70h1v1h-1zM159 70h3v1h-3zM174 70h1v1h-1zM176 70h1v1h-1zM179 70h1v1h-1zM188 70h1v1h-1zM192 70h1v1h-1zM122 71h2v1h-2zM160 71h1v1h-1zM180 71h2v1h-2zM189 71h3v1h-3zM120 72h5v1h-5zM145 72h2v1h-2zM152 72h1v1h-1zM158 72h1v1h-1zM181 72h1v1h-1zM190 72h1v1h-1zM119 73h5v1h-5zM145 73h1v1h-1zM147 73h1v1h-1zM158 73h1v1h-1zM165 73h1v1h-1zM175 73h2v1h-2zM178 73h1v1h-1zM117 74h1v1h-1zM123 74h1v1h-1zM145 74h1v1h-1zM178 74h1v1h-1zM154 75h2v1h-2zM164 75h1v1h-1zM123 76h1v1h-1zM147 76h1v1h-1zM153 76h1v1h-1zM123 77h3v1h-3zM127 77h1v1h-1zM136 77h2v1h-2zM139 77h1v1h-1zM144 77h1v1h-1zM163 77h1v1h-1zM182 77h1v1h-1zM135 78h1v1h-1zM139 78h1v1h-1zM143 78h3v1h-3zM182 78h1v1h-1zM137 79h1v1h-1zM143 79h4v1h-4zM181 79h2v1h-2zM144 80h3v1h-3zM163 80h1v1h-1zM175 81h1v1h-1zM142 82h1v1h-1zM168 82h1v1h-1zM171 82h1v1h-1zM168 83h1v1h-1zM170 83h3v1h-3zM170 84h2v1h-2zM163 90h5v1h-5zM153 91h1v1h-1zM163 91h3v1h-3zM154 92h1v1h-1zM165 92h3v1h-3zM152 93h1v1h-1z"/>
<path fill="#ff8000" d="M49 0h6v1h-6zM92 0h1v1h-1zM115 0h1v1h-1zM128 0h2v1h-2zM137 0h1v1h-1zM139 0h2v1h-2zM146 0h2v1h-2zM153 0h2v1h-2zM158 0h1v1h-1zM49 1h3v1h-3zM54 1h1v1h-1zM60 1h4v1h-4zM103 1h3v1h-3zM115 1h1v1h-1zM125 1h5v1h-5zM139 1h2v1h-2zM146 1h2v1h-2zM153 1h2v1h-2zM158 1h1v1h-1zM209 1h2v1h-2zM213 1h1v1h-1zM49 2h3v1h-3zM54 2h1v1h-1zM59 2h7v1h-7zM71 2h1v1h-1zM97 2h1v1h-1zM104 2h2v1h-2zM115 2h1v1h-1zM124 2h1v1h-1zM129 2h1v1h-1zM138 2h1v1h-1zM140 2h1v1h-1zM154 2h3v1h-3zM158 2h1v1h-1zM209 2h1v1h-1zM213 2h1v1h-1zM50 3h3v1h-3zM58 3h1v1h-1zM66 3h1v1h-1zM70 3h2v1h-2zM96 3h2v1h-2zM104 3h3v1h-3zM114 3h1v1h-1zM120 3h5v1h-5zM138 3h3v1h-3zM154 3h4v1h-4zM208 3h1v1h-1zM210 3h2v1h-2zM213 3h1v1h-1zM52 4h3v1h-3zM58 4h1v1h-1zM66 4h2v1h-2zM71 4h1v1h-1zM96 4h3v1h-3zM104 4h2v1h-2zM114 4h2v1h-2zM118 4h6v1h-6zM128 4h1v1h-1zM137 4h4v1h-4zM146 4h1v1h-1zM153 4h5v1h-5zM208 4h6v1h-6zM53 5h1v1h-1zM58 5h4v1h-4zM66 5h2v1h-2zM69 5h1v1h-1zM91 5h1v1h-1zM96 5h1v1h-1zM98 5h2v1h-2zM128 5h1v1h-1zM136 5h4v1h-4zM143 5h9v1h-9zM155 5h3v1h-3zM217 5h3v1h-3zM225 5h2v1h-2zM60 6h2v1h-2zM66 6h9v1h-9zM88 6h1v1h-1zM91 6h1v1h-1zM94 6h1v1h-1zM98 6h1v1h-1zM135 6h3v1h-3zM145 6h1v1h-1zM148 6h2v1h-2zM151 6h1v1h-1zM154 6h1v1h-1zM156 6h2v1h-2zM165 6h3v1h-3zM210 6h2v1h-2zM214 6h1v1h-1zM217 6h1v1h-1zM219 6h1v1h-1zM224 6h3v1h-3zM60 7h1v1h-1zM66 7h6v1h-6zM75 7h1v1h-1zM87 7h3v1h-3zM135 7h3v1h-3zM146 7h4v1h-4zM151 7h4v1h-4zM157 7h1v1h-1zM164 7h1v1h-1zM168 7h1v1h-1zM217 7h3v1h-3zM223 7h4v1h-4zM46 8h2v1h-2zM57 8h1v1h-1zM61 8h1v1h-1zM66 8h7v1h-7zM77 8h1v1h-1zM87 8h2v1h-2zM128 8h1v1h-1zM135 8h1v1h-1zM145 8h4v1h-4zM152 8h1v1h-1zM154 8h3v1h-3zM159 8h1v1h-1zM162 8h2v1h-2zM209 8h1v1h-1zM218 8h2v1h-2zM222 8h1v1h-1zM226 8h1v1h-1zM45 9h3v1h-3zM62 9h4v1h-4zM67 9h6v1h-6zM78 9h6v1h-6zM87 9h2v1h-2zM129 9h1v1h-1zM145 9h4v1h-4zM152 9h1v1h-1zM154 9h1v1h-1zM158 9h3v1h-3zM162 9h1v1h-1zM168 9h1v1h-1zM206 9h1v1h-1zM208 9h1v1h-1zM215 9h4v1h-4zM226 9h1v1h-1zM68 10h1v1h-1zM73 10h1v1h-1zM81 10h1v1h-1zM83 10h2v1h-2zM129 10h1v1h-1zM145 10h2v1h-2zM152 10h1v1h-1zM154 10h2v1h-2zM158 10h2v1h-2zM162 10h1v1h-1zM168 10h1v1h-1zM205 10h4v1h-4zM211 10h2v1h-2zM226 10h1v1h-1zM45 11h1v1h-1zM76 11h2v1h-2zM82 11h1v1h-1zM84 11h1v1h-1zM97 11h1v1h-1zM126 11h2v1h-2zM130 11h1v1h-1zM146 11h1v1h-1zM151 11h2v1h-2zM160 11h3v1h-3zM164 11h2v1h-2zM205 11h4v1h-4zM210 11h1v1h-1zM226 11h1v1h-1zM45 12h1v1h-1zM48 12h1v1h-1zM79 12h6v1h-6zM97 12h1v1h-1zM124 12h2v1h-2zM129 12h2v1h-2zM145 12h5v1h-5zM159 12h4v1h-4zM198 12h4v1h-4zM204 12h1v1h-1zM207 12h4v1h-4zM212 12h1v1h-1zM226 12h1v1h-1zM47 13h1v1h-1zM83 13h2v1h-2zM97 13h1v1h-1zM130 13h1v1h-1zM145 13h2v1h-2zM148 13h2v1h-2zM157 13h3v1h-3zM161 13h2v1h-2zM197 13h1v1h-1zM208 13h4v1h-4zM213 13h1v1h-1zM225 13h2v1h-2zM98 14h1v1h-1zM130 14h1v1h-1zM145 14h5v1h-5zM158 14h1v1h-1zM160 14h1v1h-1zM162 14h1v1h-1zM197 14h1v1h-1zM209 14h1v1h-1zM224 14h1v1h-1zM100 15h1v1h-1zM130 15h1v1h-1zM138 15h1v1h-1zM146 15h6v1h-6zM160 15h1v1h-1zM162 15h1v1h-1zM197 15h1v1h-1zM98 16h3v1h-3zM103 16h2v1h-2zM107 16h2v1h-2zM125 16h1v1h-1zM132 16h2v1h-2zM138 16h1v1h-1zM146 16h5v1h-5zM162 16h1v1h-1zM208 16h1v1h-1zM210 16h3v1h-3zM214 16h1v1h-1zM216 16h6v1h-6zM223 16h1v1h-1zM228 16h1v1h-1zM98 17h2v1h-2zM104 17h1v1h-1zM108 17h1v1h-1zM146 17h5v1h-5zM159 17h1v1h-1zM196 17h1v1h-1zM209 17h1v1h-1zM215 17h4v1h-4zM227 17h3v1h-3zM97 18h2v1h-2zM103 18h2v1h-2zM134 18h1v1h-1zM146 18h2v1h-2zM149 18h3v1h-3zM159 18h3v1h-3zM209 18h1v1h-1zM217 18h1v1h-1zM97 19h2v1h-2zM103 19h1v1h-1zM134 19h1v1h-1zM145 19h3v1h-3zM149 19h3v1h-3zM173 19h1v1h-1zM211 19h3v1h-3zM108 20h1v1h-1zM133 20h7v1h-7zM144 20h1v1h-1zM148 20h4v1h-4zM170 20h6v1h-6zM98 21h2v1h-2zM133 21h1v1h-1zM145 21h2v1h-2zM148 21h4v1h-4zM170 21h1v1h-1zM172 21h3v1h-3zM196 21h1v1h-1zM139 22h1v1h-1zM146 22h6v1h-6zM196 22h1v1h-1zM108 23h1v1h-1zM138 23h2v1h-2zM146 23h6v1h-6zM196 23h1v1h-1zM107 24h2v1h-2zM137 24h1v1h-1zM148 24h1v1h-1zM152 24h3v1h-3zM108 25h1v1h-1zM137 25h1v1h-1zM148 25h2v1h-2zM153 25h3v1h-3zM190 25h1v1h-1zM194 25h1v1h-1zM196 25h1v1h-1zM107 26h2v1h-2zM138 26h1v1h-1zM148 26h2v1h-2zM153 26h2v1h-2zM190 26h1v1h-1zM194 26h1v1h-1zM196 26h1v1h-1zM61 27h1v1h-1zM99 27h2v1h-2zM102 27h1v1h-1zM104 27h1v1h-1zM106 27h4v1h-4zM131 27h4v1h-4zM137 27h2v1h-2zM148 27h2v1h-2zM153 27h2v1h-2zM187 27h2v1h-2zM195 27h2v1h-2zM60 28h2v1h-2zM104 28h6v1h-6zM131 28h2v1h-2zM138 28h2v1h-2zM144 28h2v1h-2zM149 28h1v1h-1zM154 28h1v1h-1zM187 28h1v1h-1zM61 29h1v1h-1zM131 29h2v1h-2zM134 29h1v1h-1zM138 29h3v1h-3zM142 29h1v1h-1zM154 29h2v1h-2zM186 29h3v1h-3zM61 30h1v1h-1zM93 30h2v1h-2zM99 30h1v1h-1zM103 30h1v1h-1zM130 30h2v1h-2zM133 30h3v1h-3zM138 30h2v1h-2zM142 30h1v1h-1zM150 30h2v1h-2zM153 30h3v1h-3zM187 30h2v1h-2zM93 31h3v1h-3zM99 31h1v1h-1zM130 31h2v1h-2zM141 31h1v1h-1zM152 31h4v1h-4zM188 31h4v1h-4zM93 32h1v1h-1zM98 32h1v1h-1zM100 32h3v1h-3zM109 32h1v1h-1zM138 32h1v1h-1zM141 32h2v1h-2zM151 32h5v1h-5zM189 32h3v1h-3zM92 33h2v1h-2zM98 33h1v1h-1zM101 33h2v1h-2zM109 33h1v1h-1zM138 33h2v1h-2zM151 33h1v1h-1zM155 33h1v1h-1zM190 33h1v1h-1zM92 34h3v1h-3zM96 34h1v1h-1zM98 34h5v1h-5zM109 34h1v1h-1zM138 34h2v1h-2zM151 34h1v1h-1zM157 34h1v1h-1zM186 34h1v1h-1zM92 35h2v1h-2zM95 35h2v1h-2zM99 35h1v1h-1zM101 35h3v1h-3zM106 35h4v1h-4zM138 35h1v1h-1zM144 35h1v1h-1zM149 35h3v1h-3zM157 35h1v1h-1zM92 36h1v1h-1zM94 36h2v1h-2zM99 36h1v1h-1zM101 36h2v1h-2zM107 36h3v1h-3zM145 36h9v1h-9zM157 36h1v1h-1zM56 37h2v1h-2zM94 37h1v1h-1zM99 37h1v1h-1zM102 37h1v1h-1zM107 37h3v1h-3zM137 37h1v1h-1zM144 37h5v1h-5zM150 37h1v1h-1zM153 37h1v1h-1zM157 37h1v1h-1zM182 37h2v1h-2zM55 38h1v1h-1zM101 38h2v1h-2zM108 38h3v1h-3zM137 38h1v1h-1zM144 38h1v1h-1zM146 38h3v1h-3zM155 38h1v1h-1zM157 38h1v1h-1zM180 38h1v1h-1zM182 38h2v1h-2zM90 39h3v1h-3zM107 39h4v1h-4zM137 39h1v1h-1zM142 39h2v1h-2zM145 39h1v1h-1zM147 39h2v1h-2zM155 39h2v1h-2zM92 40h1v1h-1zM107 40h5v1h-5zM137 40h1v1h-1zM140 40h6v1h-6zM86 41h1v1h-1zM108 41h4v1h-4zM138 41h13v1h-13zM167 41h2v1h-2zM105 42h1v1h-1zM109 42h1v1h-1zM111 42h2v1h-2zM138 42h1v1h-1zM140 42h3v1h-3zM145 42h1v1h-1zM150 42h2v1h-2zM167 42h1v1h-1zM142 43h1v1h-1zM145 43h2v1h-2zM151 43h3v1h-3zM164 43h5v1h-5zM170 43h1v1h-1zM176 43h1v1h-1zM106 44h1v1h-1zM138 44h2v1h-2zM142 44h1v1h-1zM146 44h2v1h-2zM166 44h1v1h-1zM168 44h1v1h-1zM176 44h1v1h-1zM105 45h3v1h-3zM113 45h1v1h-1zM141 45h1v1h-1zM146 45h5v1h-5zM165 45h1v1h-1zM170 45h1v1h-1zM176 45h1v1h-1zM104 46h2v1h-2zM107 46h1v1h-1zM113 46h1v1h-1zM141 46h1v1h-1zM147 46h2v1h-2zM166 46h5v1h-5zM180 46h4v1h-4zM103 47h2v1h-2zM107 47h1v1h-1zM113 47h1v1h-1zM166 47h5v1h-5zM177 47h1v1h-1zM179 47h5v1h-5zM104 48h1v1h-1zM113 48h1v1h-1zM170 48h1v1h-1zM177 48h6v1h-6zM102 49h3v1h-3zM112 49h3v1h-3zM136 49h1v1h-1zM165 49h1v1h-1zM170 49h2v1h-2zM177 49h2v1h-2zM182 49h1v1h-1zM96 50h1v1h-1zM102 50h3v1h-3zM108 50h1v1h-1zM114 50h1v1h-1zM136 50h2v1h-2zM165 50h1v1h-1zM171 50h1v1h-1zM176 50h3v1h-3zM182 50h2v1h-2zM93 51h4v1h-4zM102 51h3v1h-3zM108 51h1v1h-1zM114 51h1v1h-1zM165 51h1v1h-1zM172 51h1v1h-1zM176 51h9v1h-9zM95 52h1v1h-1zM98 52h7v1h-7zM108 52h1v1h-1zM114 52h1v1h-1zM174 52h2v1h-2zM183 52h1v1h-1zM96 53h1v1h-1zM166 53h1v1h-1zM92 54h1v1h-1zM97 54h2v1h-2zM102 54h5v1h-5zM113 54h1v1h-1zM166 54h1v1h-1zM182 54h1v1h-1zM97 55h1v1h-1zM99 55h1v1h-1zM111 55h2v1h-2zM165 55h1v1h-1zM180 55h3v1h-3zM93 56h1v1h-1zM96 56h1v1h-1zM103 56h2v1h-2zM111 56h1v1h-1zM115 56h1v1h-1zM117 56h1v1h-1zM160 56h2v1h-2zM164 56h1v1h-1zM111 57h1v1h-1zM114 57h1v1h-1zM120 57h1v1h-1zM160 57h2v1h-2zM169 57h3v1h-3zM111 58h4v1h-4zM159 58h3v1h-3zM168 58h5v1h-5zM111 59h4v1h-4zM122 59h1v1h-1zM159 59h2v1h-2zM169 59h4v1h-4zM174 59h2v1h-2zM122 60h1v1h-1zM159 60h2v1h-2zM169 60h1v1h-1zM175 60h1v1h-1zM117 61h1v1h-1zM119 61h1v1h-1zM123 61h1v1h-1zM159 61h2v1h-2zM169 61h1v1h-1zM116 62h2v1h-2zM119 62h5v1h-5zM125 62h1v1h-1zM159 62h2v1h-2zM169 62h1v1h-1zM116 63h1v1h-1zM119 63h4v1h-4zM126 63h1v1h-1zM159 63h2v1h-2zM169 63h1v1h-1zM117 64h3v1h-3zM159 64h1v1h-1zM169 64h1v1h-1zM117 65h1v1h-1zM173 65h1v1h-1zM191 65h1v1h-1zM117 66h2v1h-2zM127 66h1v1h-1zM145 66h2v1h-2zM155 66h3v1h-3zM163 66h1v1h-1zM173 66h1v1h-1zM187 66h1v1h-1zM189 66h1v1h-1zM117 67h1v1h-1zM124 67h1v1h-1zM129 67h2v1h-2zM144 67h3v1h-3zM148 67h2v1h-2zM156 67h1v1h-1zM173 67h1v1h-1zM187 67h3v1h-3zM119 68h2v1h-2zM123 68h2v1h-2zM144 68h1v1h-1zM156 68h1v1h-1zM162 68h1v1h-1zM166 68h1v1h-1zM173 68h1v1h-1zM187 68h1v1h-1zM189 68h1v1h-1zM192 68h1v1h-1zM119 69h7v1h-7zM133 69h1v1h-1zM140 69h1v1h-1zM143 69h1v1h-1zM155 69h1v1h-1zM161 69h1v1h-1zM166 69h1v1h-1zM173 69h1v1h-1zM189 69h1v1h-1zM116 70h1v1h-1zM119 70h6v1h-6zM126 70h2v1h-2zM155 70h1v1h-1zM158 70h1v1h-1zM166 70h1v1h-1zM173 70h1v1h-1zM175 70h1v1h-1zM189 70h3v1h-3zM116 71h1v1h-1zM119 71h3v1h-3zM124 71h4v1h-4zM154 71h1v1h-1zM166 71h1v1h-1zM173 71h3v1h-3zM177 71h3v1h-3zM116 72h1v1h-1zM119 72h1v1h-1zM127 72h1v1h-1zM153 72h1v1h-1zM157 72h1v1h-1zM166 72h4v1h-4zM172 72h9v1h-9zM116 73h3v1h-3zM124 73h1v1h-1zM127 73h1v1h-1zM146 73h1v1h-1zM152 73h1v1h-1zM169 73h4v1h-4zM174 73h1v1h-1zM177 73h1v1h-1zM179 73h3v1h-3zM127 74h1v1h-1zM146 74h2v1h-2zM152 74h1v1h-1zM157 74h1v1h-1zM165 74h1v1h-1zM175 74h3v1h-3zM179 74h1v1h-1zM181 74h1v1h-1zM123 75h1v1h-1zM145 75h1v1h-1zM147 75h1v1h-1zM152 75h2v1h-2zM181 75h1v1h-1zM145 76h1v1h-1zM152 76h1v1h-1zM164 76h1v1h-1zM181 76h1v1h-1zM126 77h1v1h-1zM138 77h1v1h-1zM145 77h1v1h-1zM181 77h1v1h-1zM136 78h3v1h-3zM146 78h1v1h-1zM163 78h1v1h-1zM181 78h1v1h-1zM163 79h1v1h-1zM180 79h1v1h-1zM176 80h1v1h-1zM165 81h1v1h-1zM174 81h1v1h-1zM169 82h2v1h-2zM172 82h3v1h-3zM169 83h1v1h-1zM173 83h2v1h-2zM168 84h2v1h-2zM167 91h1v1h-1zM152 92h2v1h-2zM153 93h1v1h-1z"/>
<path fill="#ff0000" d="M93 0h4v1h-4zM102 0h4v1h-4zM141 0h1v1h-1zM143 0h3v1h-3zM148 0h1v1h-1zM152 0h1v1h-1zM210 0h4v1h-4zM52 1h2v1h-2zM92 1h1v1h-1zM95 1h3v1h-3zM102 1h1v1h-1zM106 1h1v1h-1zM114 1h1v1h-1zM141 1h5v1h-5zM152 1h1v1h-1zM166 1h2v1h-2zM207 1h2v1h-2zM214 1h1v1h-1zM52 2h2v1h-2zM92 2h1v1h-1zM95 2h2v1h-2zM98 2h2v1h-2zM102 2h2v1h-2zM106 2h1v1h-1zM113 2h2v1h-2zM125 2h1v1h-1zM127 2h2v1h-2zM141 2h7v1h-7zM153 2h1v1h-1zM167 2h1v1h-1zM186 2h1v1h-1zM205 2h1v1h-1zM207 2h2v1h-2zM214 2h1v1h-1zM53 3h2v1h-2zM59 3h7v1h-7zM92 3h1v1h-1zM95 3h1v1h-1zM98 3h3v1h-3zM102 3h2v1h-2zM112 3h2v1h-2zM125 3h1v1h-1zM127 3h2v1h-2zM141 3h7v1h-7zM152 3h2v1h-2zM158 3h1v1h-1zM166 3h3v1h-3zM186 3h2v1h-2zM207 3h1v1h-1zM214 3h1v1h-1zM59 4h7v1h-7zM92 4h1v1h-1zM95 4h1v1h-1zM99 4h5v1h-5zM106 4h1v1h-1zM112 4h2v1h-2zM124 4h2v1h-2zM127 4h1v1h-1zM141 4h5v1h-5zM147 4h6v1h-6zM158 4h1v1h-1zM166 4h2v1h-2zM185 4h4v1h-4zM207 4h1v1h-1zM62 5h4v1h-4zM92 5h4v1h-4zM100 5h6v1h-6zM111 5h5v1h-5zM122 5h4v1h-4zM127 5h1v1h-1zM140 5h3v1h-3zM152 5h3v1h-3zM158 5h1v1h-1zM165 5h3v1h-3zM185 5h3v1h-3zM199 5h2v1h-2zM216 5h1v1h-1zM62 6h4v1h-4zM92 6h2v1h-2zM99 6h5v1h-5zM111 6h5v1h-5zM127 6h1v1h-1zM152 6h2v1h-2zM158 6h1v1h-1zM164 6h1v1h-1zM168 6h1v1h-1zM185 6h3v1h-3zM199 6h2v1h-2zM218 6h1v1h-1zM61 7h5v1h-5zM72 7h3v1h-3zM98 7h5v1h-5zM111 7h4v1h-4zM127 7h1v1h-1zM158 7h2v1h-2zM162 7h2v1h-2zM208 7h2v1h-2zM62 8h4v1h-4zM73 8h4v1h-4zM98 8h5v1h-5zM112 8h3v1h-3zM126 8h2v1h-2zM153 8h1v1h-1zM157 8h2v1h-2zM160 8h2v1h-2zM206 8h3v1h-3zM223 8h3v1h-3zM73 9h5v1h-5zM98 9h5v1h-5zM124 9h5v1h-5zM153 9h1v1h-1zM155 9h3v1h-3zM161 9h1v1h-1zM205 9h1v1h-1zM207 9h1v1h-1zM219 9h4v1h-4zM225 9h1v1h-1zM45 10h3v1h-3zM74 10h7v1h-7zM82 10h1v1h-1zM98 10h5v1h-5zM124 10h5v1h-5zM153 10h1v1h-1zM156 10h2v1h-2zM160 10h2v1h-2zM203 10h2v1h-2zM213 10h2v1h-2zM224 10h2v1h-2zM46 11h2v1h-2zM78 11h4v1h-4zM83 11h1v1h-1zM100 11h2v1h-2zM114 11h1v1h-1zM123 11h3v1h-3zM128 11h2v1h-2zM153 11h7v1h-7zM168 11h1v1h-1zM199 11h6v1h-6zM211 11h3v1h-3zM223 11h3v1h-3zM46 12h2v1h-2zM101 12h1v1h-1zM114 12h1v1h-1zM126 12h3v1h-3zM150 12h2v1h-2zM156 12h3v1h-3zM163 12h4v1h-4zM211 12h1v1h-1zM213 12h1v1h-1zM223 12h3v1h-3zM98 13h1v1h-1zM124 13h6v1h-6zM147 13h1v1h-1zM150 13h1v1h-1zM156 13h1v1h-1zM163 13h3v1h-3zM214 13h1v1h-1zM223 13h2v1h-2zM99 14h1v1h-1zM101 14h1v1h-1zM124 14h6v1h-6zM150 14h2v1h-2zM156 14h2v1h-2zM159 14h1v1h-1zM163 14h1v1h-1zM214 14h1v1h-1zM101 15h8v1h-8zM123 15h7v1h-7zM152 15h2v1h-2zM156 15h4v1h-4zM163 15h1v1h-1zM196 15h1v1h-1zM214 15h1v1h-1zM101 16h2v1h-2zM124 16h1v1h-1zM126 16h6v1h-6zM151 16h1v1h-1zM157 16h3v1h-3zM196 16h1v1h-1zM215 16h1v1h-1zM222 16h1v1h-1zM229 16h1v1h-1zM100 17h1v1h-1zM103 17h1v1h-1zM124 17h10v1h-10zM151 17h2v1h-2zM157 17h2v1h-2zM162 17h1v1h-1zM195 17h1v1h-1zM214 17h1v1h-1zM99 18h2v1h-2zM109 18h1v1h-1zM125 18h9v1h-9zM152 18h7v1h-7zM170 18h3v1h-3zM195 18h1v1h-1zM214 18h1v1h-1zM99 19h1v1h-1zM109 19h1v1h-1zM126 19h8v1h-8zM157 19h5v1h-5zM169 19h4v1h-4zM174 19h2v1h-2zM195 19h1v1h-1zM98 20h2v1h-2zM102 20h1v1h-1zM109 20h1v1h-1zM127 20h6v1h-6zM145 20h3v1h-3zM152 20h1v1h-1zM169 20h1v1h-1zM195 20h1v1h-1zM108 21h3v1h-3zM129 21h4v1h-4zM134 21h6v1h-6zM147 21h1v1h-1zM169 21h1v1h-1zM171 21h1v1h-1zM175 21h1v1h-1zM195 21h1v1h-1zM108 22h3v1h-3zM131 22h8v1h-8zM170 22h4v1h-4zM194 22h2v1h-2zM109 23h1v1h-1zM133 23h5v1h-5zM152 23h2v1h-2zM193 23h1v1h-1zM195 23h1v1h-1zM109 24h2v1h-2zM132 24h1v1h-1zM135 24h2v1h-2zM155 24h1v1h-1zM191 24h1v1h-1zM194 24h2v1h-2zM109 25h1v1h-1zM130 25h3v1h-3zM135 25h2v1h-2zM156 25h2v1h-2zM188 25h2v1h-2zM195 25h1v1h-1zM109 26h1v1h-1zM129 26h9v1h-9zM155 26h2v1h-2zM187 26h3v1h-3zM195 26h1v1h-1zM101 27h1v1h-1zM103 27h1v1h-1zM128 27h3v1h-3zM135 27h2v1h-2zM155 27h1v1h-1zM177 27h1v1h-1zM186 27h1v1h-1zM99 28h5v1h-5zM127 28h4v1h-4zM135 28h3v1h-3zM146 28h1v1h-1zM155 28h1v1h-1zM176 28h4v1h-4zM185 28h2v1h-2zM60 29h1v1h-1zM99 29h2v1h-2zM103 29h1v1h-1zM110 29h1v1h-1zM127 29h4v1h-4zM135 29h3v1h-3zM143 29h1v1h-1zM149 29h1v1h-1zM182 29h4v1h-4zM100 30h3v1h-3zM110 30h1v1h-1zM128 30h2v1h-2zM132 30h1v1h-1zM136 30h2v1h-2zM143 30h1v1h-1zM149 30h1v1h-1zM182 30h5v1h-5zM110 31h1v1h-1zM129 31h1v1h-1zM132 31h3v1h-3zM136 31h2v1h-2zM142 31h2v1h-2zM149 31h3v1h-3zM183 31h1v1h-1zM186 31h1v1h-1zM99 32h1v1h-1zM110 32h1v1h-1zM129 32h3v1h-3zM136 32h2v1h-2zM143 32h1v1h-1zM150 32h1v1h-1zM156 32h1v1h-1zM186 32h1v1h-1zM99 33h2v1h-2zM110 33h1v1h-1zM129 33h1v1h-1zM136 33h2v1h-2zM149 33h2v1h-2zM156 33h1v1h-1zM186 33h1v1h-1zM110 34h1v1h-1zM136 34h2v1h-2zM144 34h1v1h-1zM149 34h2v1h-2zM94 35h1v1h-1zM100 35h1v1h-1zM110 35h1v1h-1zM135 35h3v1h-3zM145 35h4v1h-4zM158 35h1v1h-1zM184 35h1v1h-1zM100 36h1v1h-1zM110 36h1v1h-1zM135 36h3v1h-3zM158 36h1v1h-1zM183 36h1v1h-1zM100 37h2v1h-2zM110 37h1v1h-1zM135 37h2v1h-2zM149 37h1v1h-1zM151 37h2v1h-2zM181 37h1v1h-1zM111 38h1v1h-1zM135 38h2v1h-2zM145 38h1v1h-1zM149 38h6v1h-6zM111 39h1v1h-1zM135 39h2v1h-2zM144 39h1v1h-1zM146 39h1v1h-1zM149 39h6v1h-6zM135 40h2v1h-2zM146 40h11v1h-11zM166 40h3v1h-3zM112 41h1v1h-1zM135 41h3v1h-3zM151 41h2v1h-2zM154 41h2v1h-2zM164 41h3v1h-3zM169 41h2v1h-2zM136 42h2v1h-2zM143 42h2v1h-2zM152 42h3v1h-3zM163 42h4v1h-4zM168 42h3v1h-3zM176 42h1v1h-1zM113 43h1v1h-1zM136 43h2v1h-2zM143 43h2v1h-2zM154 43h1v1h-1zM163 43h1v1h-1zM113 44h1v1h-1zM137 44h1v1h-1zM143 44h3v1h-3zM152 44h2v1h-2zM163 44h3v1h-3zM171 44h1v1h-1zM137 45h4v1h-4zM142 45h4v1h-4zM151 45h1v1h-1zM163 45h2v1h-2zM106 46h1v1h-1zM137 46h4v1h-4zM142 46h5v1h-5zM149 46h3v1h-3zM163 46h3v1h-3zM171 46h1v1h-1zM176 46h1v1h-1zM105 47h2v1h-2zM137 47h15v1h-15zM164 47h2v1h-2zM105 48h3v1h-3zM137 48h10v1h-10zM148 48h3v1h-3zM164 48h2v1h-2zM171 48h1v1h-1zM105 49h1v1h-1zM107 49h1v1h-1zM137 49h3v1h-3zM147 49h3v1h-3zM164 49h1v1h-1zM172 49h2v1h-2zM176 49h1v1h-1zM179 49h3v1h-3zM105 50h1v1h-1zM147 50h1v1h-1zM164 50h1v1h-1zM172 50h4v1h-4zM179 50h3v1h-3zM105 51h1v1h-1zM136 51h2v1h-2zM147 51h2v1h-2zM164 51h1v1h-1zM173 51h3v1h-3zM93 52h2v1h-2zM105 52h3v1h-3zM164 52h2v1h-2zM93 53h3v1h-3zM98 53h9v1h-9zM114 53h1v1h-1zM164 53h2v1h-2zM93 54h4v1h-4zM99 54h3v1h-3zM114 54h1v1h-1zM156 54h1v1h-1zM162 54h4v1h-4zM93 55h4v1h-4zM113 55h2v1h-2zM148 55h1v1h-1zM158 55h7v1h-7zM94 56h2v1h-2zM112 56h3v1h-3zM118 56h4v1h-4zM143 56h3v1h-3zM158 56h2v1h-2zM162 56h2v1h-2zM112 57h2v1h-2zM121 57h2v1h-2zM143 57h4v1h-4zM158 57h2v1h-2zM162 57h1v1h-1zM164 57h4v1h-4zM122 58h1v1h-1zM142 58h4v1h-4zM158 58h1v1h-1zM123 59h2v1h-2zM142 59h4v1h-4zM158 59h1v1h-1zM161 59h1v1h-1zM168 59h1v1h-1zM123 60h3v1h-3zM142 60h5v1h-5zM158 60h1v1h-1zM161 60h1v1h-1zM168 60h1v1h-1zM124 61h3v1h-3zM142 61h6v1h-6zM158 61h1v1h-1zM161 61h1v1h-1zM168 61h1v1h-1zM118 62h1v1h-1zM124 62h1v1h-1zM126 62h1v1h-1zM144 62h4v1h-4zM158 62h1v1h-1zM161 62h1v1h-1zM168 62h1v1h-1zM117 63h2v1h-2zM144 63h1v1h-1zM146 63h2v1h-2zM158 63h1v1h-1zM161 63h1v1h-1zM168 63h1v1h-1zM144 64h5v1h-5zM158 64h1v1h-1zM160 64h2v1h-2zM168 64h1v1h-1zM127 65h1v1h-1zM144 65h5v1h-5zM156 65h6v1h-6zM168 65h5v1h-5zM128 66h3v1h-3zM144 66h1v1h-1zM147 66h4v1h-4zM158 66h5v1h-5zM164 66h2v1h-2zM170 66h3v1h-3zM192 66h1v1h-1zM131 67h1v1h-1zM157 67h2v1h-2zM161 67h2v1h-2zM166 67h2v1h-2zM170 67h3v1h-3zM192 67h1v1h-1zM116 68h1v1h-1zM118 68h1v1h-1zM143 68h1v1h-1zM157 68h2v1h-2zM161 68h1v1h-1zM167 68h6v1h-6zM190 68h2v1h-2zM116 69h2v1h-2zM139 69h1v1h-1zM141 69h2v1h-2zM156 69h5v1h-5zM167 69h6v1h-6zM190 69h2v1h-2zM117 70h2v1h-2zM125 70h1v1h-1zM156 70h2v1h-2zM167 70h6v1h-6zM117 71h2v1h-2zM155 71h3v1h-3zM167 71h6v1h-6zM176 71h1v1h-1zM117 72h2v1h-2zM125 72h2v1h-2zM154 72h3v1h-3zM170 72h2v1h-2zM125 73h2v1h-2zM153 73h5v1h-5zM166 73h1v1h-1zM168 73h1v1h-1zM173 73h1v1h-1zM124 74h1v1h-1zM153 74h4v1h-4zM170 74h2v1h-2zM174 74h1v1h-1zM180 74h1v1h-1zM124 75h1v1h-1zM127 75h1v1h-1zM146 75h1v1h-1zM165 75h1v1h-1zM170 75h2v1h-2zM176 75h3v1h-3zM180 75h1v1h-1zM124 76h2v1h-2zM127 76h1v1h-1zM146 76h1v1h-1zM170 76h3v1h-3zM177 76h1v1h-1zM146 77h1v1h-1zM164 77h1v1h-1zM170 77h3v1h-3zM177 77h1v1h-1zM167 78h1v1h-1zM170 78h3v1h-3zM177 78h1v1h-1zM166 79h3v1h-3zM177 79h3v1h-3zM164 80h1v1h-1zM175 80h1v1h-1zM166 81h4v1h-4zM166 91h1v1h-1z"/>
<path fill="#ba55d3" d="M97 0h5v1h-5zM106 0h2v1h-2zM112 0h3v1h-3zM142 0h1v1h-1zM149 0h3v1h-3zM159 0h1v1h-1zM166 0h2v1h-2zM184 0h3v1h-3zM203 0h7v1h-7zM214 0h1v1h-1zM216 0h1v1h-1zM93 1h2v1h-2zM98 1h4v1h-4zM107 1h1v1h-1zM112 1h2v1h-2zM148 1h2v1h-2zM151 1h1v1h-1zM159 1h1v1h-1zM163 1h1v1h-1zM168 1h1v1h-1zM183 1h6v1h-6zM202 1h5v1h-5zM216 1h1v1h-1zM93 2h2v1h-2zM100 2h2v1h-2zM107 2h2v1h-2zM112 2h1v1h-1zM126 2h1v1h-1zM148 2h2v1h-2zM152 2h1v1h-1zM159 2h2v1h-2zM163 2h2v1h-2zM166 2h1v1h-1zM168 2h1v1h-1zM184 2h2v1h-2zM187 2h2v1h-2zM202 2h3v1h-3zM206 2h1v1h-1zM216 2h1v1h-1zM93 3h2v1h-2zM101 3h1v1h-1zM107 3h1v1h-1zM109 3h3v1h-3zM126 3h1v1h-1zM148 3h2v1h-2zM159 3h1v1h-1zM163 3h3v1h-3zM184 3h2v1h-2zM188 3h1v1h-1zM202 3h5v1h-5zM216 3h1v1h-1zM93 4h2v1h-2zM107 4h5v1h-5zM126 4h1v1h-1zM163 4h3v1h-3zM168 4h1v1h-1zM184 4h1v1h-1zM201 4h6v1h-6zM214 4h1v1h-1zM216 4h1v1h-1zM106 5h5v1h-5zM116 5h6v1h-6zM126 5h1v1h-1zM162 5h3v1h-3zM168 5h1v1h-1zM179 5h2v1h-2zM183 5h2v1h-2zM188 5h1v1h-1zM198 5h1v1h-1zM201 5h1v1h-1zM206 5h10v1h-10zM104 6h2v1h-2zM109 6h2v1h-2zM116 6h1v1h-1zM122 6h5v1h-5zM159 6h1v1h-1zM162 6h2v1h-2zM179 6h6v1h-6zM198 6h1v1h-1zM201 6h1v1h-1zM209 6h1v1h-1zM103 7h3v1h-3zM109 7h2v1h-2zM115 7h2v1h-2zM122 7h5v1h-5zM160 7h2v1h-2zM169 7h1v1h-1zM179 7h9v1h-9zM198 7h4v1h-4zM206 7h2v1h-2zM103 8h1v1h-1zM110 8h2v1h-2zM115 8h2v1h-2zM122 8h4v1h-4zM169 8h1v1h-1zM181 8h1v1h-1zM205 8h1v1h-1zM103 9h1v1h-1zM110 9h8v1h-8zM122 9h2v1h-2zM169 9h1v1h-1zM200 9h2v1h-2zM203 9h2v1h-2zM223 9h2v1h-2zM103 10h5v1h-5zM111 10h5v1h-5zM122 10h2v1h-2zM169 10h1v1h-1zM199 10h4v1h-4zM215 10h1v1h-1zM223 10h1v1h-1zM98 11h2v1h-2zM102 11h2v1h-2zM106 11h1v1h-1zM112 11h2v1h-2zM115 11h1v1h-1zM122 11h1v1h-1zM198 11h1v1h-1zM214 11h1v1h-1zM98 12h3v1h-3zM102 12h2v1h-2zM106 12h1v1h-1zM111 12h3v1h-3zM115 12h1v1h-1zM122 12h2v1h-2zM152 12h4v1h-4zM167 12h1v1h-1zM197 12h1v1h-1zM214 12h1v1h-1zM222 12h1v1h-1zM99 13h4v1h-4zM106 13h1v1h-1zM111 13h5v1h-5zM122 13h2v1h-2zM151 13h5v1h-5zM166 13h1v1h-1zM222 13h1v1h-1zM100 14h1v1h-1zM102 14h6v1h-6zM109 14h7v1h-7zM122 14h2v1h-2zM152 14h4v1h-4zM164 14h2v1h-2zM196 14h1v1h-1zM223 14h1v1h-1zM109 15h7v1h-7zM122 15h1v1h-1zM154 15h2v1h-2zM164 15h1v1h-1zM169 15h3v1h-3zM218 15h6v1h-6zM109 16h5v1h-5zM123 16h1v1h-1zM152 16h5v1h-5zM163 16h1v1h-1zM168 16h4v1h-4zM195 16h1v1h-1zM101 17h2v1h-2zM109 17h4v1h-4zM123 17h1v1h-1zM153 17h4v1h-4zM163 17h1v1h-1zM168 17h7v1h-7zM210 17h1v1h-1zM101 18h2v1h-2zM110 18h3v1h-3zM124 18h1v1h-1zM162 18h3v1h-3zM168 18h2v1h-2zM173 18h4v1h-4zM210 18h1v1h-1zM100 19h3v1h-3zM110 19h2v1h-2zM125 19h1v1h-1zM152 19h5v1h-5zM162 19h2v1h-2zM168 19h1v1h-1zM176 19h1v1h-1zM194 19h1v1h-1zM100 20h2v1h-2zM110 20h2v1h-2zM126 20h1v1h-1zM153 20h2v1h-2zM156 20h7v1h-7zM168 20h1v1h-1zM176 20h1v1h-1zM194 20h1v1h-1zM111 21h1v1h-1zM127 21h2v1h-2zM152 21h4v1h-4zM158 21h5v1h-5zM168 21h1v1h-1zM194 21h1v1h-1zM111 22h1v1h-1zM128 22h3v1h-3zM152 22h3v1h-3zM156 22h7v1h-7zM168 22h2v1h-2zM174 22h1v1h-1zM193 22h1v1h-1zM110 23h2v1h-2zM128 23h5v1h-5zM154 23h8v1h-8zM168 23h3v1h-3zM194 23h1v1h-1zM111 24h1v1h-1zM128 24h4v1h-4zM133 24h2v1h-2zM156 24h6v1h-6zM189 24h2v1h-2zM110 25h2v1h-2zM128 25h2v1h-2zM133 25h2v1h-2zM158 25h1v1h-1zM174 25h1v1h-1zM185 25h3v1h-3zM110 26h2v1h-2zM127 26h2v1h-2zM157 26h1v1h-1zM174 26h7v1h-7zM185 26h2v1h-2zM110 27h1v1h-1zM126 27h2v1h-2zM156 27h1v1h-1zM174 27h3v1h-3zM178 27h4v1h-4zM184 27h2v1h-2zM110 28h1v1h-1zM125 28h2v1h-2zM147 28h2v1h-2zM156 28h1v1h-1zM160 28h5v1h-5zM174 28h2v1h-2zM180 28h5v1h-5zM101 29h2v1h-2zM111 29h1v1h-1zM125 29h2v1h-2zM144 29h3v1h-3zM156 29h1v1h-1zM159 29h7v1h-7zM174 29h8v1h-8zM111 30h1v1h-1zM125 30h3v1h-3zM156 30h1v1h-1zM159 30h7v1h-7zM181 30h1v1h-1zM111 31h1v1h-1zM126 31h3v1h-3zM135 31h1v1h-1zM156 31h1v1h-1zM159 31h7v1h-7zM181 31h2v1h-2zM184 31h2v1h-2zM111 32h1v1h-1zM128 32h1v1h-1zM132 32h4v1h-4zM149 32h1v1h-1zM158 32h7v1h-7zM185 32h1v1h-1zM111 33h1v1h-1zM127 33h2v1h-2zM130 33h6v1h-6zM144 33h1v1h-1zM157 33h9v1h-9zM111 34h1v1h-1zM126 34h10v1h-10zM148 34h1v1h-1zM158 34h6v1h-6zM185 34h1v1h-1zM120 35h1v1h-1zM126 35h9v1h-9zM159 35h1v1h-1zM162 35h1v1h-1zM167 35h1v1h-1zM111 36h1v1h-1zM120 36h1v1h-1zM128 36h4v1h-4zM134 36h1v1h-1zM159 36h2v1h-2zM162 36h4v1h-4zM182 36h1v1h-1zM111 37h1v1h-1zM119 37h3v1h-3zM134 37h1v1h-1zM158 37h3v1h-3zM119 38h4v1h-4zM134 38h1v1h-1zM158 38h1v1h-1zM179 38h1v1h-1zM112 39h1v1h-1zM119 39h3v1h-3zM133 39h2v1h-2zM157 39h3v1h-3zM174 39h1v1h-1zM178 39h1v1h-1zM112 40h1v1h-1zM119 40h3v1h-3zM129 40h2v1h-2zM133 40h2v1h-2zM157 40h1v1h-1zM159 40h2v1h-2zM165 40h1v1h-1zM169 40h3v1h-3zM174 40h1v1h-1zM177 40h1v1h-1zM113 41h1v1h-1zM120 41h1v1h-1zM131 41h4v1h-4zM153 41h1v1h-1zM156 41h1v1h-1zM163 41h1v1h-1zM171 41h1v1h-1zM176 41h1v1h-1zM113 42h1v1h-1zM134 42h2v1h-2zM155 42h1v1h-1zM162 42h1v1h-1zM171 42h3v1h-3zM135 43h1v1h-1zM155 43h1v1h-1zM161 43h2v1h-2zM171 43h4v1h-4zM132 44h1v1h-1zM135 44h2v1h-2zM154 44h2v1h-2zM162 44h1v1h-1zM172 44h4v1h-4zM114 45h1v1h-1zM131 45h3v1h-3zM136 45h1v1h-1zM152 45h4v1h-4zM162 45h1v1h-1zM171 45h5v1h-5zM116 46h2v1h-2zM131 46h3v1h-3zM136 46h1v1h-1zM152 46h1v1h-1zM154 46h1v1h-1zM162 46h1v1h-1zM172 46h4v1h-4zM114 47h1v1h-1zM132 47h1v1h-1zM136 47h1v1h-1zM152 47h1v1h-1zM163 47h1v1h-1zM171 47h6v1h-6zM114 48h4v1h-4zM136 48h1v1h-1zM147 48h1v1h-1zM151 48h2v1h-2zM155 48h6v1h-6zM163 48h1v1h-1zM172 48h5v1h-5zM106 49h1v1h-1zM115 49h2v1h-2zM135 49h1v1h-1zM140 49h7v1h-7zM150 49h2v1h-2zM155 49h6v1h-6zM163 49h1v1h-1zM174 49h2v1h-2zM106 50h2v1h-2zM115 50h1v1h-1zM135 50h1v1h-1zM138 50h9v1h-9zM148 50h4v1h-4zM156 50h2v1h-2zM159 50h2v1h-2zM163 50h1v1h-1zM106 51h2v1h-2zM115 51h1v1h-1zM135 51h1v1h-1zM138 51h1v1h-1zM141 51h2v1h-2zM144 51h1v1h-1zM146 51h1v1h-1zM149 51h3v1h-3zM159 51h2v1h-2zM163 51h1v1h-1zM115 52h1v1h-1zM136 52h3v1h-3zM141 52h2v1h-2zM146 52h5v1h-5zM155 52h6v1h-6zM163 52h1v1h-1zM115 53h1v1h-1zM146 53h4v1h-4zM155 53h9v1h-9zM115 54h3v1h-3zM141 54h4v1h-4zM146 54h4v1h-4zM154 54h2v1h-2zM157 54h5v1h-5zM115 55h7v1h-7zM141 55h7v1h-7zM149 55h2v1h-2zM156 55h2v1h-2zM122 56h1v1h-1zM141 56h2v1h-2zM146 56h5v1h-5zM157 56h1v1h-1zM123 57h3v1h-3zM140 57h3v1h-3zM147 57h4v1h-4zM155 57h3v1h-3zM163 57h1v1h-1zM123 58h3v1h-3zM140 58h2v1h-2zM146 58h5v1h-5zM155 58h3v1h-3zM162 58h1v1h-1zM166 58h2v1h-2zM125 59h2v1h-2zM140 59h2v1h-2zM146 59h5v1h-5zM156 59h2v1h-2zM162 59h1v1h-1zM167 59h1v1h-1zM126 60h1v1h-1zM140 60h2v1h-2zM147 60h4v1h-4zM153 60h1v1h-1zM156 60h2v1h-2zM162 60h1v1h-1zM127 61h5v1h-5zM138 61h1v1h-1zM140 61h2v1h-2zM148 61h3v1h-3zM153 61h1v1h-1zM156 61h2v1h-2zM162 61h2v1h-2zM167 61h1v1h-1zM127 62h5v1h-5zM138 62h6v1h-6zM148 62h2v1h-2zM155 62h3v1h-3zM162 62h2v1h-2zM167 62h1v1h-1zM127 63h6v1h-6zM138 63h3v1h-3zM143 63h1v1h-1zM145 63h1v1h-1zM148 63h1v1h-1zM155 63h3v1h-3zM162 63h2v1h-2zM167 63h1v1h-1zM127 64h6v1h-6zM137 64h4v1h-4zM143 64h1v1h-1zM149 64h1v1h-1zM155 64h3v1h-3zM162 64h6v1h-6zM128 65h5v1h-5zM139 65h1v1h-1zM143 65h1v1h-1zM149 65h1v1h-1zM151 65h5v1h-5zM162 65h6v1h-6zM131 66h2v1h-2zM143 66h1v1h-1zM166 66h4v1h-4zM190 66h2v1h-2zM132 67h1v1h-1zM143 67h1v1h-1zM159 67h2v1h-2zM168 67h2v1h-2zM190 67h2v1h-2zM117 68h1v1h-1zM133 68h1v1h-1zM139 68h4v1h-4zM159 68h2v1h-2zM118 69h1v1h-1zM134 69h1v1h-1zM137 69h2v1h-2zM167 73h1v1h-1zM125 74h2v1h-2zM166 74h4v1h-4zM172 74h2v1h-2zM125 75h2v1h-2zM166 75h2v1h-2zM169 75h1v1h-1zM172 75h4v1h-4zM179 75h1v1h-1zM126 76h1v1h-1zM165 76h2v1h-2zM168 76h2v1h-2zM173 76h4v1h-4zM178 76h3v1h-3zM165 77h2v1h-2zM169 77h1v1h-1zM173 77h2v1h-2zM176 77h1v1h-1zM178 77h1v1h-1zM180 77h1v1h-1zM164 78h3v1h-3zM168 78h2v1h-2zM173 78h2v1h-2zM176 78h1v1h-1zM178 78h3v1h-3zM164 79h2v1h-2zM169 79h5v1h-5zM176 79h1v1h-1zM165 80h10v1h-10zM170 81h4v1h-4z"/>
<path fill="#9400d3" d="M108 0h4v1h-4zM160 0h6v1h-6zM168 0h3v1h-3zM175 0h3v1h-3zM182 0h2v1h-2zM187 0h16v1h-16zM215 0h1v1h-1zM108 1h4v1h-4zM150 1h1v1h-1zM160 1h3v1h-3zM164 1h2v1h-2zM169 1h3v1h-3zM175 1h3v1h-3zM182 1h1v1h-1zM189 1h13v1h-13zM215 1h1v1h-1zM109 2h3v1h-3zM150 2h2v1h-2zM161 2h2v1h-2zM165 2h1v1h-1zM169 2h3v1h-3zM173 2h4v1h-4zM183 2h1v1h-1zM189 2h4v1h-4zM194 2h8v1h-8zM215 2h1v1h-1zM108 3h1v1h-1zM150 3h2v1h-2zM160 3h3v1h-3zM169 3h9v1h-9zM183 3h1v1h-1zM189 3h2v1h-2zM198 3h4v1h-4zM215 3h1v1h-1zM159 4h4v1h-4zM169 4h15v1h-15zM189 4h2v1h-2zM197 4h4v1h-4zM215 4h1v1h-1zM159 5h3v1h-3zM169 5h10v1h-10zM181 5h2v1h-2zM189 5h2v1h-2zM197 5h1v1h-1zM202 5h4v1h-4zM106 6h3v1h-3zM117 6h5v1h-5zM160 6h2v1h-2zM169 6h10v1h-10zM188 6h3v1h-3zM197 6h1v1h-1zM202 6h7v1h-7zM106 7h3v1h-3zM117 7h3v1h-3zM121 7h1v1h-1zM170 7h2v1h-2zM175 7h4v1h-4zM188 7h2v1h-2zM197 7h1v1h-1zM202 7h4v1h-4zM104 8h6v1h-6zM117 8h5v1h-5zM170 8h4v1h-4zM179 8h2v1h-2zM182 8h5v1h-5zM197 8h8v1h-8zM104 9h6v1h-6zM118 9h4v1h-4zM170 9h4v1h-4zM197 9h3v1h-3zM202 9h1v1h-1zM108 10h3v1h-3zM116 10h6v1h-6zM170 10h4v1h-4zM197 10h2v1h-2zM216 10h7v1h-7zM104 11h2v1h-2zM107 11h5v1h-5zM116 11h6v1h-6zM169 11h5v1h-5zM180 11h2v1h-2zM197 11h1v1h-1zM215 11h1v1h-1zM220 11h3v1h-3zM104 12h2v1h-2zM107 12h4v1h-4zM116 12h6v1h-6zM168 12h5v1h-5zM179 12h2v1h-2zM196 12h1v1h-1zM215 12h1v1h-1zM220 12h2v1h-2zM103 13h3v1h-3zM107 13h4v1h-4zM116 13h6v1h-6zM167 13h6v1h-6zM196 13h1v1h-1zM215 13h1v1h-1zM220 13h2v1h-2zM108 14h1v1h-1zM116 14h6v1h-6zM166 14h8v1h-8zM215 14h1v1h-1zM219 14h4v1h-4zM116 15h3v1h-3zM121 15h1v1h-1zM165 15h4v1h-4zM172 15h2v1h-2zM195 15h1v1h-1zM215 15h3v1h-3zM114 16h3v1h-3zM119 16h1v1h-1zM121 16h2v1h-2zM164 16h4v1h-4zM172 16h4v1h-4zM113 17h2v1h-2zM120 17h3v1h-3zM164 17h4v1h-4zM175 17h2v1h-2zM194 17h1v1h-1zM211 17h3v1h-3zM113 18h1v1h-1zM120 18h4v1h-4zM165 18h3v1h-3zM177 18h3v1h-3zM194 18h1v1h-1zM211 18h3v1h-3zM112 19h2v1h-2zM120 19h5v1h-5zM164 19h4v1h-4zM177 19h2v1h-2zM112 20h1v1h-1zM120 20h6v1h-6zM155 20h1v1h-1zM163 20h5v1h-5zM177 20h1v1h-1zM193 20h1v1h-1zM112 21h1v1h-1zM120 21h7v1h-7zM156 21h2v1h-2zM163 21h5v1h-5zM176 21h1v1h-1zM193 21h1v1h-1zM112 22h1v1h-1zM120 22h8v1h-8zM155 22h1v1h-1zM163 22h5v1h-5zM175 22h2v1h-2zM112 23h1v1h-1zM121 23h7v1h-7zM162 23h6v1h-6zM171 23h6v1h-6zM182 23h5v1h-5zM192 23h1v1h-1zM112 24h1v1h-1zM122 24h6v1h-6zM162 24h14v1h-14zM179 24h10v1h-10zM122 25h6v1h-6zM159 25h15v1h-15zM175 25h7v1h-7zM183 25h2v1h-2zM121 26h6v1h-6zM158 26h16v1h-16zM181 26h4v1h-4zM111 27h1v1h-1zM117 27h2v1h-2zM121 27h5v1h-5zM157 27h12v1h-12zM170 27h4v1h-4zM182 27h2v1h-2zM111 28h1v1h-1zM117 28h3v1h-3zM121 28h4v1h-4zM157 28h3v1h-3zM165 28h4v1h-4zM171 28h3v1h-3zM117 29h2v1h-2zM122 29h3v1h-3zM147 29h2v1h-2zM157 29h2v1h-2zM166 29h2v1h-2zM172 29h2v1h-2zM112 30h1v1h-1zM121 30h4v1h-4zM144 30h5v1h-5zM157 30h2v1h-2zM166 30h4v1h-4zM171 30h10v1h-10zM112 31h1v1h-1zM121 31h5v1h-5zM144 31h5v1h-5zM157 31h2v1h-2zM166 31h7v1h-7zM180 31h1v1h-1zM112 32h2v1h-2zM115 32h1v1h-1zM121 32h7v1h-7zM144 32h5v1h-5zM157 32h1v1h-1zM165 32h8v1h-8zM181 32h4v1h-4zM112 33h4v1h-4zM124 33h3v1h-3zM145 33h4v1h-4zM166 33h7v1h-7zM181 33h5v1h-5zM112 34h4v1h-4zM120 34h3v1h-3zM124 34h2v1h-2zM145 34h3v1h-3zM164 34h9v1h-9zM181 34h2v1h-2zM184 34h1v1h-1zM111 35h7v1h-7zM119 35h1v1h-1zM121 35h5v1h-5zM160 35h2v1h-2zM163 35h4v1h-4zM168 35h5v1h-5zM182 35h2v1h-2zM112 36h8v1h-8zM121 36h7v1h-7zM132 36h2v1h-2zM161 36h1v1h-1zM166 36h7v1h-7zM181 36h1v1h-1zM112 37h7v1h-7zM122 37h12v1h-12zM161 37h14v1h-14zM180 37h1v1h-1zM112 38h7v1h-7zM123 38h11v1h-11zM159 38h18v1h-18zM113 39h2v1h-2zM116 39h3v1h-3zM122 39h4v1h-4zM127 39h6v1h-6zM160 39h14v1h-14zM175 39h3v1h-3zM113 40h6v1h-6zM122 40h7v1h-7zM131 40h2v1h-2zM158 40h1v1h-1zM161 40h4v1h-4zM172 40h2v1h-2zM175 40h2v1h-2zM114 41h6v1h-6zM121 41h10v1h-10zM157 41h6v1h-6zM172 41h4v1h-4zM114 42h20v1h-20zM156 42h6v1h-6zM174 42h2v1h-2zM114 43h8v1h-8zM123 43h2v1h-2zM126 43h9v1h-9zM156 43h5v1h-5zM175 43h1v1h-1zM114 44h10v1h-10zM126 44h6v1h-6zM133 44h2v1h-2zM156 44h6v1h-6zM115 45h8v1h-8zM129 45h2v1h-2zM134 45h2v1h-2zM156 45h6v1h-6zM114 46h2v1h-2zM118 46h5v1h-5zM129 46h2v1h-2zM134 46h2v1h-2zM153 46h1v1h-1zM155 46h7v1h-7zM115 47h8v1h-8zM129 47h3v1h-3zM133 47h3v1h-3zM153 47h10v1h-10zM118 48h6v1h-6zM129 48h7v1h-7zM153 48h2v1h-2zM161 48h2v1h-2zM117 49h7v1h-7zM129 49h6v1h-6zM152 49h3v1h-3zM161 49h2v1h-2zM116 50h7v1h-7zM129 50h6v1h-6zM152 50h4v1h-4zM158 50h1v1h-1zM161 50h2v1h-2zM116 51h7v1h-7zM129 51h6v1h-6zM139 51h2v1h-2zM143 51h1v1h-1zM145 51h1v1h-1zM152 51h7v1h-7zM161 51h2v1h-2zM116 52h7v1h-7zM129 52h7v1h-7zM139 52h2v1h-2zM143 52h3v1h-3zM151 52h4v1h-4zM161 52h2v1h-2zM116 53h7v1h-7zM125 53h2v1h-2zM129 53h4v1h-4zM134 53h12v1h-12zM150 53h5v1h-5zM118 54h5v1h-5zM125 54h2v1h-2zM134 54h2v1h-2zM139 54h2v1h-2zM145 54h1v1h-1zM150 54h4v1h-4zM122 55h5v1h-5zM135 55h1v1h-1zM138 55h3v1h-3zM151 55h5v1h-5zM123 56h6v1h-6zM133 56h3v1h-3zM138 56h3v1h-3zM151 56h6v1h-6zM126 57h3v1h-3zM132 57h4v1h-4zM138 57h2v1h-2zM151 57h4v1h-4zM126 58h3v1h-3zM133 58h7v1h-7zM151 58h4v1h-4zM163 58h3v1h-3zM127 59h3v1h-3zM133 59h7v1h-7zM151 59h5v1h-5zM163 59h4v1h-4zM127 60h5v1h-5zM133 60h7v1h-7zM151 60h2v1h-2zM154 60h2v1h-2zM163 60h5v1h-5zM132 61h6v1h-6zM139 61h1v1h-1zM151 61h2v1h-2zM154 61h2v1h-2zM164 61h3v1h-3zM132 62h1v1h-1zM134 62h4v1h-4zM150 62h5v1h-5zM164 62h3v1h-3zM133 63h5v1h-5zM141 63h2v1h-2zM149 63h6v1h-6zM164 63h3v1h-3zM133 64h4v1h-4zM141 64h2v1h-2zM150 64h5v1h-5zM133 65h6v1h-6zM140 65h3v1h-3zM150 65h1v1h-1zM133 66h2v1h-2zM136 66h7v1h-7zM133 67h2v1h-2zM137 67h6v1h-6zM134 68h1v1h-1zM137 68h2v1h-2zM135 69h2v1h-2zM168 75h1v1h-1zM167 76h1v1h-1zM167 77h2v1h-2zM175 77h1v1h-1zM179 77h1v1h-1zM175 78h1v1h-1zM174 79h2v1h-2z"/>
<path fill="#780062" d="M171 0h4v1h-4zM178 0h4v1h-4zM172 1h3v1h-3zM178 1h4v1h-4zM172 2h1v1h-1zM177 2h6v1h-6zM193 2h1v1h-1zM178 3h5v1h-5zM191 3h7v1h-7zM191 4h6v1h-6zM191 5h6v1h-6zM191 6h6v1h-6zM120 7h1v1h-1zM172 7h3v1h-3zM190 7h7v1h-7zM174 8h5v1h-5zM187 8h10v1h-10zM174 9h23v1h-23zM174 10h23v1h-23zM174 11h6v1h-6zM182 11h15v1h-15zM216 11h4v1h-4zM173 12h6v1h-6zM181 12h15v1h-15zM216 12h4v1h-4zM173 13h23v1h-23zM216 13h4v1h-4zM174 14h22v1h-22zM216 14h3v1h-3zM119 15h2v1h-2zM174 15h21v1h-21zM117 16h2v1h-2zM120 16h1v1h-1zM176 16h19v1h-19zM115 17h5v1h-5zM177 17h17v1h-17zM114 18h6v1h-6zM180 18h14v1h-14zM114 19h6v1h-6zM179 19h15v1h-15zM113 20h7v1h-7zM178 20h15v1h-15zM113 21h7v1h-7zM177 21h16v1h-16zM113 22h7v1h-7zM177 22h16v1h-16zM113 23h8v1h-8zM177 23h5v1h-5zM187 23h5v1h-5zM113 24h9v1h-9zM176 24h3v1h-3zM112 25h10v1h-10zM182 25h1v1h-1zM112 26h9v1h-9zM112 27h5v1h-5zM119 27h2v1h-2zM169 27h1v1h-1zM112 28h5v1h-5zM120 28h1v1h-1zM169 28h2v1h-2zM112 29h5v1h-5zM119 29h3v1h-3zM168 29h4v1h-4zM113 30h8v1h-8zM170 30h1v1h-1zM113 31h8v1h-8zM173 31h7v1h-7zM114 32h1v1h-1zM116 32h5v1h-5zM173 32h8v1h-8zM116 33h8v1h-8zM173 33h8v1h-8zM116 34h4v1h-4zM123 34h1v1h-1zM173 34h8v1h-8zM183 34h1v1h-1zM118 35h1v1h-1zM173 35h9v1h-9zM173 36h8v1h-8zM175 37h5v1h-5zM177 38h2v1h-2zM115 39h1v1h-1zM126 39h1v1h-1zM122 43h1v1h-1zM125 43h1v1h-1zM124 44h2v1h-2zM123 45h6v1h-6zM123 46h6v1h-6zM123 47h6v1h-6zM124 48h5v1h-5zM124 49h5v1h-5zM123 50h6v1h-6zM123 51h6v1h-6zM123 52h6v1h-6zM123 53h2v1h-2zM127 53h2v1h-2zM133 53h1v1h-1zM123 54h2v1h-2zM127 54h7v1h-7zM136 54h3v1h-3zM127 55h8v1h-8zM136 55h2v1h-2zM129 56h4v1h-4zM136 56h2v1h-2zM129 57h3v1h-3zM136 57h2v1h-2zM129 58h4v1h-4zM130 59h3v1h-3zM132 60h1v1h-1zM133 62h1v1h-1zM135 66h1v1h-1zM135 67h2v1h-2zM135 68h2v1h-2z"/>
</g>
<polygon fill="#888888" points="122.6,845.7 137.8,845.7 137.8,839.4 144.0,839.4 144.0,834.2 149.2,834.2 149.2,811.3 172.1,811.3 172.1,822.8 238.7,822.8 238.7,834.2 273.0,834.2 273.0,839.4 302.2,839.4 307.4,850.9 317.8,850.9 317.8,856.1 329.2,856.1 329.2,867.5 352.1,867.5 352.1,890.4 362.5,890.4 362.5,958.1 118.0,958.1 118.0,845.7"/>
<polygon shape-rendering="auto" fill="#00dc00" stroke="#000" stroke-width="0.8" stroke-linejoin="round" points="118.0,855.0 133.6,856.1 147.1,849.8 151.3,833.2 156.5,814.5 169.0,815.5 167.9,823.8 174.2,822.8 180.4,827.0 201.2,828.0 221.0,824.9 231.4,833.2 242.9,843.6 248.1,849.8 251.2,841.5 272.0,837.4 278.2,842.6 294.9,839.4 301.1,843.6 299.1,854.0 293.9,861.3 311.5,856.1 324.0,866.5 307.4,875.9 326.1,871.7 332.4,887.3 338.6,904.0 344.8,910.2 323.0,925.8 344.8,912.3 353.2,924.8 361.5,937.3 354.2,958.1 118.0,958.1"/>
<polygon shape-rendering="auto" fill="#00dc00" stroke="#000" stroke-width="0.8" stroke-linejoin="round" points="333.4,877.9 341.7,874.8 348.0,881.1 355.3,879.0 357.3,891.5 364.6,900.8 355.3,899.8 359.4,916.4 360.5,922.7 355.3,926.8 351.1,918.5 346.9,899.8 335.5,893.5 336.5,885.2"/>
<polygon fill="#888888" points="374.0,923.7 396.9,923.7 396.9,946.6 374.0,946.6"/>
<polygon shape-rendering="auto" fill="#00dc00" stroke="#000" stroke-width="0.8" stroke-linejoin="round" points="381.3,931.0 387.5,920.6 393.8,928.9 393.8,937.3 386.5,936.2 381.3,934.1"/>
<polygon shape-rendering="auto" fill="#00dc00" stroke="#000" stroke-width="0.8" stroke-linejoin="round" points="372.9,952.9 380.2,951.8 383.3,958.1 376.1,958.1"/>
<polygon fill="#888888" points="149.2,700.0 176.3,700.0 176.3,704.2 172.1,704.2 172.1,715.6 155.5,715.6 149.2,710.4"/>
<polygon shape-rendering="auto" fill="#00dc00" stroke="#000" stroke-width="0.8" stroke-linejoin="round" points="154.4,700.0 174.2,700.0 172.1,708.3 159.6,714.6 149.2,711.4 157.5,708.3"/>
<polygon fill="#888888" points="118.0,733.3 131.5,733.3 131.5,738.5 137.8,738.5 137.8,794.7 118.0,794.7"/>
<polygon shape-rendering="auto" fill="#00dc00" stroke="#000" stroke-width="0.8" stroke-linejoin="round" points="118.0,739.5 127.4,743.7 126.3,749.9 137.8,755.2 138.8,766.6 145.1,772.8 133.6,778.0 136.7,782.2 128.4,785.3 130.5,789.5 118.0,791.6"/>
<polygon fill="#1e90ff" points="131.5,782.2 137.8,782.2 137.8,788.4 131.5,788.4"/>
<polygon fill="#1e90ff" points="122.6,794.7 127.4,794.7 127.4,799.9 122.6,799.9"/>
<polygon fill="#1e90ff" points="159.6,806.1 172.1,806.1 172.1,811.3 159.6,811.3"/>
<polygon shape-rendering="auto" fill="#00dc00" stroke="#000" stroke-width="0.8" stroke-linejoin="round" points="163.8,771.8 169.0,766.6 167.9,770.8"/>
<polygon fill="#888888" points="118.0,294.1 126.8,294.1 126.8,299.4 131.7,299.4 131.7,332.8 137.7,332.8 137.7,350.4 144.1,350.4 144.1,361.0 149.3,361.0 149.3,367.1 155.0,367.1 155.0,377.7 159.9,377.7 159.9,389.1 155.0,389.1 155.0,395.3 159.9,395.3 159.9,411.7 155.0,411.7 155.0,439.8 149.3,439.8 149.3,456.6 137.7,456.6 137.7,462.2 126.8,462.2 126.8,473.6 118.0,473.6"/>
<polygon shape-rendering="auto" fill="#00dc00" stroke="#000" stroke-width="0.8" stroke-linejoin="round" points="118.0,331.0 134.7,333.7 136.5,345.1 133.8,357.5 136.5,364.5 129.4,365.4 135.6,373.3 131.2,383.9 146.2,369.8 155.8,385.6 153.2,401.5 154.1,410.3 146.2,441.9 118.0,468.3"/>
<polygon shape-rendering="auto" fill="#00dc00" stroke="#000" stroke-width="0.8" stroke-linejoin="round" points="118.0,302.9 130.3,304.6 124.2,320.5 125.9,329.3 118.0,330.2"/>
<polygon shape-rendering="auto" fill="#00dc00" stroke="#000" stroke-width="0.8" stroke-linejoin="round" points="128.6,327.5 136.5,326.1 133.8,329.6"/>
<polygon fill="#888888" points="149.2,502.4 166.5,502.4 166.5,490.6 172.0,490.6 172.0,485.1 183.0,485.1 183.0,490.6 188.5,490.6 188.5,507.1 183.0,507.1 183.0,513.4 172.0,513.4 172.0,518.9 194.0,518.9 194.0,524.4 199.5,524.4 199.5,529.9 222.2,529.9 222.2,540.9 216.7,540.9 216.7,551.9 205.0,551.9 205.0,563.7 194.0,563.7 194.0,546.4 172.0,546.4 172.0,540.9 154.7,540.9 154.7,529.9 160.2,529.9 160.2,524.4 154.7,524.4 154.7,518.9 149.2,518.9"/>
<polygon shape-rendering="auto" fill="#00dc00" stroke="#000" stroke-width="0.8" stroke-linejoin="round" points="155.5,505.5 160.2,500.8 168.8,504.8 174.3,505.5 172.8,508.7 159.4,514.2"/>
<polygon shape-rendering="auto" fill="#00dc00" stroke="#000" stroke-width="0.8" stroke-linejoin="round" points="168.8,504.0 174.3,493.0 182.2,488.3 187.7,496.9 185.3,500.8 183.0,503.2 180.6,500.1 173.6,503.2"/>
<polygon fill="#1e90ff" points="177.5,519.4 194.0,519.4 194.0,524.4 177.5,524.4"/>
<polygon shape-rendering="auto" fill="#00dc00" stroke="#000" stroke-width="0.8" stroke-linejoin="round" points="166.5,526.8 170.4,523.6 172.8,526.0 184.5,525.2 186.9,528.3 190.8,526.8 194.0,529.9 197.9,528.3 200.3,532.2 209.7,526.8 216.7,535.4 212.0,549.5 201.0,554.2 200.3,547.2 190.8,544.0 180.6,539.3 168.8,531.5"/>
<polygon fill="#888888" points="138.0,654.0 149.0,654.0 149.0,663.2 138.0,663.2"/>
<polygon fill="#888888" points="122.8,665.2 138.0,665.2 138.0,687.8 122.8,687.8"/>
<polygon shape-rendering="auto" fill="#00dc00" stroke="#000" stroke-width="0.8" stroke-linejoin="round" points="126.8,673.2 132.4,665.6 138.0,664.0 141.2,659.6 144.4,659.2 144.8,663.6 148.8,662.8 144.4,670.0 139.2,669.6 135.6,676.0"/>
<polygon fill="#888888" points="149.0,688.0 160.0,688.0 160.0,709.6 149.0,709.6"/>
<polygon fill="#888888" points="160.0,692.8 177.0,692.8 177.0,704.0 160.0,704.0"/>
<polygon fill="#888888" points="155.0,704.0 172.0,704.0 172.0,715.6 155.0,715.6"/>
<polygon shape-rendering="auto" fill="#00dc00" stroke="#000" stroke-width="0.8" stroke-linejoin="round" points="148.4,710.8 155.6,708.4 156.4,710.4 161.2,707.2 161.6,703.6 154.8,701.6 162.8,690.4 169.2,697.2 175.2,695.2 175.2,700.4 170.0,705.2 173.2,707.2 169.2,710.4 158.0,714.8"/>
</g>
<g clip-path="url(#mc)" fill="none" stroke="#000" stroke-width="0.9">
<line x1="74.1" y1="-341.7" x2="-660.4" y2="1094.5"/>
<line x1="99.0" y1="-329.2" x2="-610.3" y2="1119.6"/>
<line x1="124.2" y1="-317.2" x2="-559.8" y2="1143.8"/>
<line x1="149.5" y1="-305.6" x2="-508.8" y2="1167.1"/>
<line x1="175.1" y1="-294.4" x2="-457.4" y2="1189.6"/>
<line x1="200.8" y1="-283.7" x2="-405.7" y2="1211.1"/>
<line x1="226.8" y1="-273.5" x2="-353.6" y2="1231.7"/>
<line x1="252.9" y1="-263.7" x2="-301.1" y2="1251.4"/>
<line x1="279.1" y1="-254.3" x2="-248.4" y2="1270.2"/>
<line x1="305.6" y1="-245.4" x2="-195.2" y2="1288.0"/>
<line x1="332.1" y1="-237.0" x2="-141.8" y2="1305.0"/>
<line x1="358.9" y1="-229.0" x2="-88.1" y2="1321.0"/>
<line x1="385.7" y1="-221.6" x2="-34.1" y2="1336.0"/>
<line x1="412.7" y1="-214.5" x2="20.1" y2="1350.1"/>
<line x1="439.8" y1="-208.0" x2="74.6" y2="1363.3"/>
<line x1="467.0" y1="-201.9" x2="129.2" y2="1375.5"/>
<line x1="494.3" y1="-196.3" x2="184.1" y2="1386.8"/>
<line x1="521.7" y1="-191.2" x2="239.2" y2="1397.1"/>
<line x1="549.2" y1="-186.5" x2="294.5" y2="1406.4"/>
<line x1="576.8" y1="-182.4" x2="349.9" y2="1414.8"/>
<line x1="604.4" y1="-178.7" x2="405.4" y2="1422.2"/>
<line x1="632.1" y1="-175.5" x2="461.1" y2="1428.6"/>
<line x1="659.9" y1="-172.8" x2="516.9" y2="1434.0"/>
<line x1="687.7" y1="-170.6" x2="572.7" y2="1438.5"/>
<line x1="715.5" y1="-168.8" x2="628.6" y2="1442.0"/>
<line x1="743.3" y1="-167.6" x2="684.6" y2="1444.5"/>
<line x1="771.2" y1="-166.8" x2="740.6" y2="1446.1"/>
<line x1="799.1" y1="-166.5" x2="796.7" y2="1446.7"/>
<line x1="827.0" y1="-166.7" x2="852.7" y2="1446.3"/>
<line x1="854.8" y1="-167.4" x2="908.7" y2="1444.9"/>
<line x1="882.7" y1="-168.6" x2="964.7" y2="1442.5"/>
<line x1="910.5" y1="-170.2" x2="1020.6" y2="1439.2"/>
<line x1="938.3" y1="-172.4" x2="1076.5" y2="1434.9"/>
<line x1="966.1" y1="-175.0" x2="1132.3" y2="1429.6"/>
<line x1="993.8" y1="-178.1" x2="1188.0" y2="1423.3"/>
<line x1="1021.4" y1="-181.7" x2="1243.6" y2="1416.1"/>
<line x1="1049.0" y1="-185.8" x2="1299.0" y2="1407.9"/>
<line x1="1076.5" y1="-190.4" x2="1354.3" y2="1398.7"/>
<line x1="1103.9" y1="-195.4" x2="1409.4" y2="1388.6"/>
<line x1="1131.3" y1="-200.9" x2="1464.3" y2="1377.5"/>
<line x1="1158.5" y1="-206.9" x2="1519.0" y2="1365.5"/>
<line x1="1185.6" y1="-213.4" x2="1573.5" y2="1352.5"/>
<line x1="1212.6" y1="-220.3" x2="1627.8" y2="1338.5"/>
<line x1="1239.5" y1="-227.7" x2="1681.8" y2="1323.6"/>
<line x1="1266.3" y1="-235.6" x2="1735.6" y2="1307.8"/>
<line x1="1292.9" y1="-243.9" x2="1789.1" y2="1291.0"/>
<line x1="1319.3" y1="-252.8" x2="1842.2" y2="1273.3"/>
<line x1="1345.6" y1="-262.0" x2="1895.1" y2="1254.7"/>
<line x1="1371.7" y1="-271.7" x2="1947.6" y2="1235.1"/>
<line x1="1397.7" y1="-281.9" x2="1999.8" y2="1214.7"/>
<line x1="1423.5" y1="-292.6" x2="2051.6" y2="1193.3"/>
<line x1="1449.1" y1="-303.6" x2="2103.0" y2="1171.1"/>
<line x1="1474.4" y1="-315.2" x2="2154.0" y2="1147.9"/>
<line x1="1499.6" y1="-327.1" x2="2204.6" y2="1123.8"/>
<line x1="1524.6" y1="-339.5" x2="2254.8" y2="1098.9"/>
<circle cx="801.5" cy="-1764.0" r="3210.7"/>
<circle cx="801.5" cy="-1764.0" r="3007.6"/>
<circle cx="801.5" cy="-1764.0" r="2805.0"/>
<circle cx="801.5" cy="-1764.0" r="2602.9"/>
<circle cx="801.5" cy="-1764.0" r="2401.1"/>
<circle cx="801.5" cy="-1764.0" r="2199.7"/>
<circle cx="801.5" cy="-1764.0" r="1998.7"/>
<circle cx="801.5" cy="-1764.0" r="1797.9"/>
<circle cx="801.5" cy="-1764.0" r="1597.5"/>
</g>
<rect x="121" y="147" width="1284" height="811" fill="none" stroke="#000" stroke-width="4"/>
<g font-family="Liberation Sans, sans-serif" fill="#000" stroke="#000" stroke-width="0.6">
<line x1="214.1" y1="145.0" x2="218.1" y2="132.1" stroke="#000" stroke-width="1.7"/>
<g transform="translate(222.3,118.2) rotate(-72.91)"><text x="0.00" y="16.65" font-size="46.5" stroke-width="0.9">105<tspan font-size="26" dy="-17">°</tspan><tspan dy="19">E</tspan></text><rect x="2.29" y="12.12" width="8.90" height="5.77" fill="#fff" stroke="none"/><rect x="16.30" y="12.12" width="8.54" height="5.77" fill="#fff" stroke="none"/></g>
<line x1="392.3" y1="145.0" x2="395.1" y2="131.8" stroke="#000" stroke-width="1.7"/>
<g transform="translate(398.2,117.6) rotate(-77.91)"><text x="0.00" y="16.65" font-size="46.5" stroke-width="0.9">110<tspan font-size="26" dy="-17">°</tspan><tspan dy="19">E</tspan></text><rect x="2.29" y="12.12" width="8.90" height="5.77" fill="#fff" stroke="none"/><rect x="16.30" y="12.12" width="8.54" height="5.77" fill="#fff" stroke="none"/><rect x="28.15" y="12.12" width="8.90" height="5.77" fill="#fff" stroke="none"/><rect x="42.16" y="12.12" width="8.54" height="5.77" fill="#fff" stroke="none"/></g>
<line x1="563.9" y1="145.0" x2="565.6" y2="131.6" stroke="#000" stroke-width="1.7"/>
<g transform="translate(567.4,117.2) rotate(-82.91)"><text x="0.00" y="16.65" font-size="46.5" stroke-width="0.9">115<tspan font-size="26" dy="-17">°</tspan><tspan dy="19">E</tspan></text><rect x="2.29" y="12.12" width="8.90" height="5.77" fill="#fff" stroke="none"/><rect x="16.30" y="12.12" width="8.54" height="5.77" fill="#fff" stroke="none"/><rect x="28.15" y="12.12" width="8.90" height="5.77" fill="#fff" stroke="none"/><rect x="42.16" y="12.12" width="8.54" height="5.77" fill="#fff" stroke="none"/></g>
<line x1="731.9" y1="145.0" x2="732.4" y2="131.5" stroke="#000" stroke-width="1.7"/>
<g transform="translate(732.9,117.0) rotate(-87.91)"><text x="0.00" y="16.65" font-size="46.5" stroke-width="0.9">120<tspan font-size="26" dy="-17">°</tspan><tspan dy="19">E</tspan></text><rect x="2.29" y="12.12" width="8.90" height="5.77" fill="#fff" stroke="none"/><rect x="16.30" y="12.12" width="8.54" height="5.77" fill="#fff" stroke="none"/></g>
<line x1="898.8" y1="145.0" x2="898.1" y2="131.5" stroke="#000" stroke-width="1.7"/>
<g transform="translate(897.3,117.0) rotate(87.09)"><text x="-119.00" y="16.65" font-size="46.5" stroke-width="0.9">125<tspan font-size="26" dy="-17">°</tspan><tspan dy="19">E</tspan></text><rect x="-116.70" y="12.12" width="8.90" height="5.77" fill="#fff" stroke="none"/><rect x="-102.69" y="12.12" width="8.54" height="5.77" fill="#fff" stroke="none"/></g>
<line x1="1067.1" y1="145.0" x2="1065.3" y2="131.6" stroke="#000" stroke-width="1.7"/>
<g transform="translate(1063.3,117.3) rotate(82.09)"><text x="-119.00" y="16.65" font-size="46.5" stroke-width="0.9">130<tspan font-size="26" dy="-17">°</tspan><tspan dy="19">E</tspan></text><rect x="-116.70" y="12.12" width="8.90" height="5.77" fill="#fff" stroke="none"/><rect x="-102.69" y="12.12" width="8.54" height="5.77" fill="#fff" stroke="none"/></g>
<line x1="1239.7" y1="145.0" x2="1236.6" y2="131.8" stroke="#000" stroke-width="1.7"/>
<g transform="translate(1233.4,117.7) rotate(77.09)"><text x="-119.00" y="16.65" font-size="46.5" stroke-width="0.9">135<tspan font-size="26" dy="-17">°</tspan><tspan dy="19">E</tspan></text><rect x="-116.70" y="12.12" width="8.90" height="5.77" fill="#fff" stroke="none"/><rect x="-102.69" y="12.12" width="8.54" height="5.77" fill="#fff" stroke="none"/></g>
<line x1="218.6" y1="960.0" x2="215.8" y2="973.2" stroke="#000" stroke-width="1.7"/>
<g transform="translate(212.8,987.4) rotate(-77.91)"><text x="-119.00" y="16.65" font-size="46.5" stroke-width="0.9">110<tspan font-size="26" dy="-17">°</tspan><tspan dy="19">E</tspan></text><rect x="-116.70" y="12.12" width="8.90" height="5.77" fill="#fff" stroke="none"/><rect x="-102.69" y="12.12" width="8.54" height="5.77" fill="#fff" stroke="none"/><rect x="-90.84" y="12.12" width="8.90" height="5.77" fill="#fff" stroke="none"/><rect x="-76.83" y="12.12" width="8.54" height="5.77" fill="#fff" stroke="none"/></g>
<line x1="463.1" y1="960.0" x2="461.5" y2="973.4" stroke="#000" stroke-width="1.7"/>
<g transform="translate(459.7,987.8) rotate(-82.91)"><text x="-119.00" y="16.65" font-size="46.5" stroke-width="0.9">115<tspan font-size="26" dy="-17">°</tspan><tspan dy="19">E</tspan></text><rect x="-116.70" y="12.12" width="8.90" height="5.77" fill="#fff" stroke="none"/><rect x="-102.69" y="12.12" width="8.54" height="5.77" fill="#fff" stroke="none"/><rect x="-90.84" y="12.12" width="8.90" height="5.77" fill="#fff" stroke="none"/><rect x="-76.83" y="12.12" width="8.54" height="5.77" fill="#fff" stroke="none"/></g>
<line x1="702.3" y1="960.0" x2="701.9" y2="973.5" stroke="#000" stroke-width="1.7"/>
<g transform="translate(701.3,988.0) rotate(-87.91)"><text x="-119.00" y="16.65" font-size="46.5" stroke-width="0.9">120<tspan font-size="26" dy="-17">°</tspan><tspan dy="19">E</tspan></text><rect x="-116.70" y="12.12" width="8.90" height="5.77" fill="#fff" stroke="none"/><rect x="-102.69" y="12.12" width="8.54" height="5.77" fill="#fff" stroke="none"/></g>
<line x1="940.0" y1="960.0" x2="940.7" y2="973.5" stroke="#000" stroke-width="1.7"/>
<g transform="translate(941.5,988.0) rotate(87.09)"><text x="0.00" y="16.65" font-size="46.5" stroke-width="0.9">125<tspan font-size="26" dy="-17">°</tspan><tspan dy="19">E</tspan></text><rect x="2.29" y="12.12" width="8.90" height="5.77" fill="#fff" stroke="none"/><rect x="16.30" y="12.12" width="8.54" height="5.77" fill="#fff" stroke="none"/></g>
<line x1="1179.9" y1="960.0" x2="1181.7" y2="973.4" stroke="#000" stroke-width="1.7"/>
<g transform="translate(1183.7,987.7) rotate(82.09)"><text x="0.00" y="16.65" font-size="46.5" stroke-width="0.9">130<tspan font-size="26" dy="-17">°</tspan><tspan dy="19">E</tspan></text><rect x="2.29" y="12.12" width="8.90" height="5.77" fill="#fff" stroke="none"/><rect x="16.30" y="12.12" width="8.54" height="5.77" fill="#fff" stroke="none"/></g>
<line x1="119.0" y1="957.2" x2="105.9" y2="954.0" stroke="#000" stroke-width="1.7"/>
<g transform="translate(91.8,950.4) rotate(14.04)"><text x="-95.70" y="16.65" font-size="46.5" stroke-width="0.9">76<tspan font-size="26" dy="-17">°</tspan><tspan dy="19">N</tspan></text></g>
<line x1="119.0" y1="538.7" x2="106.1" y2="534.9" stroke="#000" stroke-width="1.7"/>
<g transform="translate(92.1,530.7) rotate(16.46)"><text x="-95.70" y="16.65" font-size="46.5" stroke-width="0.9">78<tspan font-size="26" dy="-17">°</tspan><tspan dy="19">N</tspan></text></g>
<line x1="1407.0" y1="560.0" x2="1420.1" y2="556.7" stroke="#000" stroke-width="1.7"/>
<g transform="translate(1434.1,553.0) rotate(-14.56)"><text x="0.00" y="16.65" font-size="46.5" stroke-width="0.9">78<tspan font-size="26" dy="-17">°</tspan><tspan dy="19">N</tspan></text></g>
<rect x="794.7" y="1098.8" width="58.4" height="26" fill="#00008b" stroke="none"/>
<rect x="852.6" y="1098.8" width="58.4" height="26" fill="#1e90ff" stroke="none"/>
<rect x="910.5" y="1098.8" width="58.4" height="26" fill="#1ef5a0" stroke="none"/>
<rect x="968.3" y="1098.8" width="58.4" height="26" fill="#228b22" stroke="none"/>
<rect x="1026.2" y="1098.8" width="58.4" height="26" fill="#00ee00" stroke="none"/>
<rect x="1084.1" y="1098.8" width="58.4" height="26" fill="#7ffa00" stroke="none"/>
<rect x="1142.0" y="1098.8" width="58.4" height="26" fill="#adff2f" stroke="none"/>
<rect x="1199.9" y="1098.8" width="58.4" height="26" fill="#ffff00" stroke="none"/>
<rect x="1257.7" y="1098.8" width="29.4" height="26" fill="#ff8000" stroke="none"/>
<rect x="1286.7" y="1098.8" width="29.4" height="26" fill="#ff0000" stroke="none"/>
<rect x="1315.6" y="1098.8" width="29.4" height="26" fill="#ba55d3" stroke="none"/>
<rect x="1344.6" y="1098.8" width="23.7" height="26" fill="#9400d3" stroke="none"/>
<rect x="1367.7" y="1098.8" width="6.3" height="26" fill="#780062" stroke="none"/>
<rect x="794.7" y="1098.8" width="578.8" height="26" fill="none" stroke="#000" stroke-width="3.3"/>
<line x1="794.7" y1="1126" x2="794.7" y2="1140.7" stroke="#000" stroke-width="1.7"/>
<g transform="translate(794.70,1188.00)"><text x="-12.93" y="0" font-size="46.50" stroke-width="0.60">0</text></g>
<line x1="939.4" y1="1126" x2="939.4" y2="1140.7" stroke="#000" stroke-width="1.7"/>
<g transform="translate(939.40,1188.00)"><text x="-25.86" y="0" font-size="46.50" stroke-width="0.60">25</text></g>
<line x1="1084.1" y1="1126" x2="1084.1" y2="1140.7" stroke="#000" stroke-width="1.7"/>
<g transform="translate(1084.10,1188.00)"><text x="-25.86" y="0" font-size="46.50" stroke-width="0.60">50</text></g>
<line x1="1228.8" y1="1126" x2="1228.8" y2="1140.7" stroke="#000" stroke-width="1.7"/>
<g transform="translate(1228.80,1188.00)"><text x="-25.86" y="0" font-size="46.50" stroke-width="0.60">75</text></g>
<line x1="1373.5" y1="1126" x2="1373.5" y2="1140.7" stroke="#000" stroke-width="1.7"/>
<g transform="translate(1373.50,1188.00)"><text x="-38.79" y="0" font-size="46.50" stroke-width="0.60">100</text><rect x="-36.35" y="-4.37" width="8.90" height="5.47" fill="#fff" stroke="none"/><rect x="-22.64" y="-4.37" width="8.54" height="5.47" fill="#fff" stroke="none"/></g>
<text x="1389" y="1132" font-size="45.5">C[%]</text>
<text x="1087" y="1236" text-anchor="middle" font-size="38.6">Ice Concentration</text>
<g transform="translate(54.00,1141.00)"><text x="0.00" y="0" font-size="66.50" stroke-width="0.60">Sep 15 2025</text><rect x="140.76" y="-5.87" width="12.41" height="6.97" fill="#fff" stroke="none"/><rect x="159.75" y="-5.87" width="11.89" height="6.97" fill="#fff" stroke="none"/></g>
<g transform="translate(54.00,1197.50)"><text x="0.00" y="0" font-size="66.50" stroke-width="0.60">LaptevSeaNorth</text></g>
<g transform="translate(56.00,1242.50)"><text x="0.00" y="0" font-size="33.40" stroke-width="0.60">ASI (from AMSR2) ver. 5.4,  Grid 3.125 km</text><rect x="526.70" y="-3.40" width="6.60" height="4.50" fill="#fff" stroke="none"/><rect x="536.95" y="-3.40" width="6.34" height="4.50" fill="#fff" stroke="none"/></g>
</g>
</svg></body></html>
